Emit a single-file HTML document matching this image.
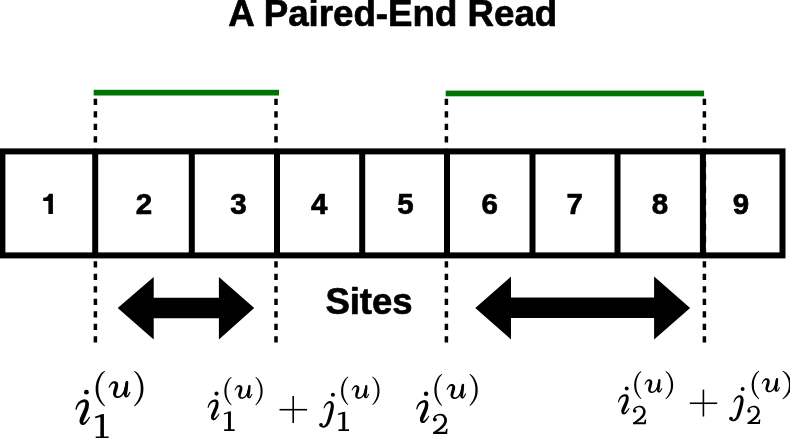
<!DOCTYPE html>
<html><head><meta charset="utf-8">
<style>
html,body{margin:0;padding:0;background:#fff;width:790px;height:438px;overflow:hidden}
svg{display:block;position:absolute;left:0;top:0;will-change:transform}
.sb{font-family:"Liberation Sans",sans-serif;font-weight:bold;fill:#000;stroke:#000;stroke-width:0.7px;stroke-linejoin:round}
</style></head><body>
<svg width="790" height="438" viewBox="0 0 790 438">
<text class="sb" x="392.8" y="25.7" font-size="36.7" text-anchor="middle">A Paired-End Read</text>
<rect x="93.7" y="89.8" width="185.3" height="5.7" fill="#007400"/>
<rect x="445.7" y="90.6" width="258.4" height="5.7" fill="#007400"/>
<rect x="2.4" y="151.4" width="780.1" height="104" fill="none" stroke="#000" stroke-width="6"/>
<g stroke="#000" stroke-width="6">
<line x1="95.2" y1="151.4" x2="95.2" y2="255.4"/>
<line x1="191.8" y1="151.4" x2="191.8" y2="255.4"/>
<line x1="277" y1="151.4" x2="277" y2="255.4"/>
<line x1="362.2" y1="151.4" x2="362.2" y2="255.4"/>
<line x1="447" y1="151.4" x2="447" y2="255.4"/>
<line x1="532.5" y1="151.4" x2="532.5" y2="255.4"/>
<line x1="617.5" y1="151.4" x2="617.5" y2="255.4"/>
<line x1="702.9" y1="151.4" x2="702.9" y2="255.4"/>
</g>
<g stroke="#000" stroke-width="3.5" stroke-dasharray="6.2 6.3">
<line x1="95.4" y1="98.7" x2="95.4" y2="343"/>
<line x1="276" y1="98.7" x2="276" y2="343"/>
<line x1="446.4" y1="98.7" x2="446.4" y2="343"/>
<line x1="704.4" y1="98.7" x2="704.4" y2="343"/>
</g>
<g class="sb" font-size="29.5" text-anchor="middle">
<text x="143.9" y="214">2</text>
<text x="238.5" y="214">3</text>
<text x="319.2" y="214">4</text>
<text x="405.4" y="214">5</text>
<text x="489.8" y="214">6</text>
<text x="574.7" y="214">7</text>
<text x="659.9" y="214">8</text>
<text x="741" y="214">9</text>
</g>
<polygon fill="#000" points="43.2,197.7 45.6,197.4 47.3,196.5 48.4,195.1 49.0,193.8 52.9,193.8 52.9,214.0 48.4,214.0 48.4,201.0 43.2,201.0"/>
<text class="sb" x="369" y="314" font-size="36.5" text-anchor="middle">Sites</text>
<polygon fill="#000" points="117.7,308 153.7,277 153.7,297.8 218.9,297.8 218.9,277 254.2,308 218.9,339.4 218.9,318.2 153.7,318.2 153.7,339.4"/>
<polygon fill="#000" points="475.3,308 511,276.5 511,297.6 654.1,297.6 654.1,276.5 690.1,308 654.1,339.4 654.1,318 511,318 511,339.4"/>
<g fill="#000">
<g transform="translate(75.40 389.78) scale(1.0000)"><path d="M1.26,19.59 1.35,19.35 1.44,19.10 1.52,18.86 1.60,18.62 1.68,18.39 1.76,18.16 1.84,17.94 1.93,17.72 2.02,17.50 2.12,17.29 2.22,17.08 2.34,16.87 2.47,16.64 2.61,16.40 2.76,16.16 2.92,15.92 3.07,15.69 3.24,15.46 3.41,15.23 3.58,15.01 3.75,14.81 3.93,14.62 4.10,14.44 4.28,14.28 4.47,14.12 4.67,13.96 4.87,13.81 5.09,13.67 5.30,13.53 5.53,13.40 5.75,13.28 5.98,13.16 6.20,13.06 6.43,12.97 6.65,12.89 6.87,12.82 7.10,12.76 7.35,12.69 7.61,12.64 7.87,12.59 8.13,12.55 8.38,12.52 8.62,12.51 8.84,12.50 9.03,12.52 9.18,12.54 9.28,12.57 9.35,12.61 9.42,12.65 9.51,12.71 9.58,12.77 9.64,12.83 9.68,12.89 9.72,12.95 9.75,13.02 9.78,13.09 9.81,13.18 9.83,13.27 9.85,13.39 9.86,13.52 9.87,13.68 9.87,13.91 9.86,14.18 9.83,14.50 9.80,14.85 9.74,15.22 9.68,15.60 9.61,16.00 9.53,16.39 9.45,16.78 9.36,17.15 9.27,17.50 9.17,17.82 9.07,18.14 8.95,18.47 8.82,18.82 8.67,19.16 8.52,19.52 8.36,19.88 8.19,20.25 8.02,20.62 7.86,21.00 7.69,21.38 7.53,21.76 7.38,22.10 7.23,22.44 7.08,22.77 6.93,23.09 6.78,23.42 6.63,23.75 6.48,24.07 6.33,24.40 6.18,24.73 6.03,25.07 5.89,25.41 5.75,25.74 5.62,26.05 5.49,26.36 5.34,26.68 5.19,27.02 5.04,27.36 4.89,27.71 4.75,28.07 4.61,28.44 4.48,28.82 4.37,29.20 4.27,29.60 4.20,30.00 4.16,30.37 4.14,30.73 4.13,31.08 4.14,31.44 4.17,31.80 4.22,32.15 4.29,32.51 4.39,32.86 4.51,33.21 4.68,33.57 4.89,33.92 5.15,34.25 5.46,34.53 5.78,34.75 6.11,34.92 6.44,35.05 6.79,35.14 7.14,35.19 7.49,35.22 7.85,35.20 8.21,35.16 8.57,35.07 8.92,34.95 9.27,34.78 9.59,34.57 9.88,34.33 10.16,34.07 10.42,33.79 10.67,33.50 10.92,33.20 11.16,32.90 11.40,32.58 11.63,32.27 11.85,31.97 12.06,31.67 12.27,31.39 12.48,31.10 12.68,30.80 12.88,30.51 13.07,30.21 13.25,29.91 13.44,29.61 13.62,29.31 13.79,29.01 13.97,28.72 14.15,28.42 14.32,28.13 14.50,27.84 14.59,27.65 14.59,27.45 14.52,27.26 14.38,27.11 14.19,27.03 13.98,27.02 13.79,27.10 13.65,27.24 13.43,27.51 13.22,27.79 13.01,28.07 12.80,28.34 12.59,28.62 12.38,28.89 12.18,29.16 11.97,29.42 11.76,29.68 11.54,29.93 11.32,30.17 11.10,30.41 10.86,30.66 10.60,30.92 10.35,31.19 10.09,31.45 9.83,31.71 9.57,31.95 9.32,32.17 9.08,32.36 8.85,32.53 8.64,32.65 8.47,32.73 8.34,32.76 8.24,32.76 8.13,32.75 8.03,32.73 7.92,32.69 7.82,32.64 7.74,32.58 7.66,32.52 7.60,32.46 7.57,32.39 7.57,32.34 7.59,32.31 7.66,32.33 7.72,32.36 7.77,32.36 7.80,32.31 7.83,32.23 7.86,32.12 7.89,31.98 7.93,31.81 7.98,31.63 8.03,31.44 8.09,31.24 8.15,31.03 8.21,30.84 8.27,30.66 8.35,30.47 8.44,30.25 8.55,30.00 8.68,29.73 8.81,29.43 8.96,29.13 9.11,28.80 9.27,28.47 9.43,28.13 9.59,27.77 9.74,27.42 9.88,27.10 10.01,26.78 10.15,26.46 10.28,26.14 10.42,25.81 10.56,25.48 10.71,25.14 10.85,24.79 10.99,24.44 11.14,24.08 11.28,23.71 11.42,23.34 11.56,22.99 11.70,22.64 11.85,22.27 12.01,21.88 12.17,21.48 12.33,21.07 12.49,20.65 12.64,20.22 12.79,19.78 12.92,19.33 13.04,18.86 13.14,18.40 13.22,17.94 13.30,17.48 13.36,17.01 13.41,16.53 13.46,16.05 13.49,15.57 13.51,15.09 13.51,14.62 13.49,14.15 13.46,13.69 13.40,13.24 13.30,12.80 13.18,12.39 13.02,11.99 12.83,11.63 12.61,11.28 12.37,10.97 12.09,10.69 11.80,10.44 11.50,10.22 11.18,10.04 10.86,9.89 10.53,9.77 10.18,9.67 9.79,9.60 9.40,9.58 9.01,9.58 8.64,9.62 8.28,9.67 7.92,9.75 7.56,9.83 7.22,9.93 6.88,10.04 6.55,10.16 6.24,10.29 5.94,10.42 5.64,10.56 5.35,10.72 5.06,10.89 4.77,11.07 4.49,11.25 4.22,11.45 3.96,11.66 3.70,11.87 3.46,12.09 3.22,12.32 2.99,12.56 2.77,12.80 2.55,13.06 2.35,13.34 2.16,13.61 1.98,13.90 1.81,14.19 1.65,14.47 1.50,14.76 1.36,15.05 1.23,15.34 1.10,15.61 0.98,15.89 0.87,16.15 0.76,16.43 0.66,16.70 0.57,16.97 0.50,17.24 0.43,17.50 0.37,17.75 0.31,18.00 0.25,18.24 0.20,18.48 0.15,18.72 0.09,18.95 0.03,19.19 0.00,19.44 0.07,19.69 0.23,19.88 0.45,20.01 0.70,20.03 0.94,19.97 1.14,19.81Z"/><circle cx="11.00" cy="2.40" r="2.4"/></g>
<g transform="translate(95.64 370.88) scale(1.0000 1.0000)"><path d="M8.48,0.13 8.18,0.37 7.89,0.59 7.60,0.80 7.30,1.00 6.99,1.21 6.68,1.44 6.36,1.68 6.04,1.94 5.71,2.24 5.39,2.57 5.06,2.95 4.74,3.36 4.42,3.80 4.10,4.28 3.77,4.80 3.44,5.34 3.12,5.91 2.79,6.49 2.48,7.09 2.17,7.71 1.89,8.33 1.62,8.96 1.37,9.58 1.15,10.20 0.96,10.81 0.79,11.43 0.63,12.05 0.50,12.68 0.38,13.31 0.28,13.94 0.19,14.57 0.12,15.21 0.07,15.84 0.03,16.47 0.01,17.10 0.00,17.73 0.01,18.36 0.03,18.99 0.07,19.63 0.12,20.27 0.19,20.91 0.28,21.55 0.38,22.18 0.50,22.82 0.63,23.44 0.79,24.06 0.96,24.67 1.16,25.27 1.38,25.87 1.63,26.47 1.90,27.05 2.19,27.63 2.49,28.19 2.81,28.74 3.13,29.27 3.46,29.79 3.79,30.28 4.11,30.75 4.43,31.20 4.74,31.63 5.05,32.04 5.37,32.42 5.69,32.77 6.01,33.10 6.32,33.40 6.64,33.69 6.95,33.96 7.25,34.23 7.56,34.49 7.86,34.75 8.15,35.02 8.45,35.31 8.60,35.42 8.78,35.47 8.97,35.44 9.13,35.35 9.24,35.20 9.29,35.02 9.26,34.83 9.17,34.67 8.91,34.33 8.64,34.00 8.38,33.69 8.12,33.38 7.86,33.07 7.61,32.76 7.36,32.45 7.12,32.13 6.88,31.80 6.64,31.45 6.41,31.09 6.18,30.69 5.94,30.25 5.68,29.79 5.42,29.30 5.16,28.80 4.90,28.29 4.65,27.76 4.41,27.23 4.18,26.69 3.96,26.15 3.77,25.62 3.59,25.09 3.44,24.57 3.31,24.04 3.19,23.49 3.09,22.94 2.99,22.37 2.92,21.80 2.85,21.22 2.80,20.64 2.75,20.06 2.72,19.47 2.70,18.89 2.68,18.31 2.68,17.73 2.68,17.16 2.70,16.58 2.72,16.00 2.75,15.42 2.80,14.85 2.85,14.27 2.92,13.70 2.99,13.12 3.09,12.56 3.19,11.99 3.31,11.43 3.45,10.88 3.60,10.33 3.78,9.75 3.98,9.17 4.19,8.58 4.43,7.98 4.67,7.40 4.92,6.82 5.18,6.26 5.44,5.72 5.69,5.21 5.94,4.74 6.18,4.30 6.40,3.92 6.63,3.58 6.85,3.27 7.08,2.98 7.32,2.71 7.57,2.45 7.82,2.20 8.07,1.94 8.34,1.68 8.61,1.41 8.88,1.12 9.14,0.83 9.25,0.67 9.29,0.49 9.26,0.31 9.16,0.15 9.00,0.04 8.82,0.00 8.64,0.03Z"/></g>
<g transform="translate(108.60 380.95) scale(0.9995)"><path d="M1.03,6.54 1.14,6.34 1.25,6.14 1.36,5.94 1.46,5.74 1.56,5.54 1.66,5.35 1.77,5.16 1.87,4.98 1.98,4.80 2.09,4.63 2.21,4.47 2.34,4.31 2.48,4.15 2.63,3.98 2.79,3.81 2.95,3.64 3.12,3.48 3.29,3.33 3.46,3.18 3.63,3.04 3.79,2.92 3.95,2.81 4.09,2.72 4.23,2.65 4.36,2.58 4.49,2.53 4.62,2.49 4.74,2.46 4.85,2.43 4.96,2.42 5.07,2.41 5.17,2.41 5.26,2.42 5.35,2.44 5.44,2.46 5.52,2.49 5.61,2.52 5.70,2.57 5.81,2.62 5.92,2.69 6.03,2.76 6.14,2.84 6.24,2.92 6.32,3.00 6.39,3.07 6.44,3.14 6.45,3.18 6.44,3.21 6.43,3.23 6.42,3.24 6.41,3.26 6.39,3.28 6.38,3.31 6.38,3.36 6.37,3.43 6.36,3.52 6.35,3.63 6.33,3.77 6.32,3.93 6.30,4.10 6.27,4.26 6.24,4.44 6.20,4.64 6.15,4.87 6.09,5.11 6.02,5.36 5.96,5.63 5.88,5.90 5.81,6.19 5.73,6.48 5.66,6.77 5.59,7.06 5.52,7.34 5.44,7.63 5.35,7.94 5.26,8.27 5.16,8.61 5.06,8.95 4.96,9.30 4.87,9.65 4.78,10.00 4.70,10.34 4.63,10.68 4.57,11.01 4.53,11.30 4.50,11.58 4.48,11.85 4.46,12.11 4.45,12.37 4.45,12.62 4.46,12.87 4.48,13.12 4.51,13.36 4.55,13.60 4.60,13.84 4.66,14.07 4.73,14.29 4.82,14.51 4.91,14.72 5.01,14.93 5.13,15.14 5.26,15.34 5.41,15.54 5.57,15.72 5.74,15.90 5.92,16.06 6.12,16.21 6.32,16.35 6.54,16.47 6.76,16.58 6.98,16.68 7.21,16.76 7.45,16.84 7.69,16.90 7.94,16.96 8.19,17.00 8.44,17.03 8.69,17.05 8.95,17.06 9.20,17.05 9.45,17.03 9.69,17.00 9.94,16.95 10.18,16.89 10.43,16.83 10.67,16.75 10.91,16.67 11.14,16.57 11.38,16.47 11.61,16.36 11.83,16.24 12.06,16.12 12.27,15.99 12.48,15.85 12.69,15.71 12.90,15.55 13.10,15.39 13.31,15.22 13.51,15.04 13.71,14.85 13.90,14.66 14.10,14.45 14.29,14.23 14.48,14.00 14.66,13.77 14.85,13.52 15.03,13.26 15.21,13.00 15.39,12.72 15.57,12.44 15.74,12.14 15.91,11.84 16.08,11.53 16.24,11.21 16.40,10.89 16.56,10.56 16.71,10.22 16.85,9.86 16.99,9.50 17.13,9.12 17.26,8.75 17.39,8.37 17.51,7.98 17.63,7.60 17.75,7.22 17.86,6.84 17.97,6.47 18.08,6.10 18.19,5.72 18.29,5.35 18.39,4.98 18.48,4.60 18.57,4.23 18.66,3.86 18.74,3.50 18.82,3.13 18.91,2.77 18.99,2.41 19.08,2.05 19.16,1.69 19.17,1.27 19.02,0.89 18.74,0.59 18.36,0.43 17.95,0.42 17.56,0.57 17.27,0.86 17.10,1.23 17.03,1.60 16.96,1.97 16.89,2.35 16.82,2.71 16.75,3.08 16.68,3.44 16.61,3.81 16.54,4.17 16.46,4.53 16.39,4.89 16.31,5.24 16.22,5.60 16.13,5.97 16.04,6.35 15.95,6.72 15.86,7.10 15.76,7.48 15.66,7.85 15.56,8.22 15.46,8.58 15.35,8.93 15.24,9.26 15.13,9.59 15.01,9.90 14.88,10.20 14.75,10.50 14.62,10.79 14.47,11.07 14.33,11.35 14.18,11.62 14.03,11.88 13.88,12.13 13.72,12.37 13.56,12.61 13.41,12.83 13.25,13.04 13.09,13.23 12.94,13.42 12.78,13.59 12.62,13.76 12.46,13.91 12.30,14.06 12.13,14.20 11.97,14.33 11.80,14.45 11.63,14.56 11.46,14.66 11.29,14.76 11.12,14.85 10.94,14.93 10.76,15.00 10.58,15.06 10.39,15.12 10.21,15.16 10.03,15.20 9.85,15.23 9.67,15.25 9.51,15.26 9.35,15.26 9.20,15.25 9.06,15.23 8.92,15.20 8.77,15.16 8.62,15.11 8.47,15.05 8.33,14.98 8.19,14.91 8.06,14.83 7.95,14.75 7.85,14.67 7.76,14.60 7.70,14.53 7.66,14.46 7.62,14.39 7.60,14.33 7.58,14.26 7.56,14.18 7.54,14.11 7.53,14.02 7.52,13.93 7.52,13.84 7.51,13.73 7.50,13.62 7.50,13.51 7.50,13.39 7.51,13.28 7.52,13.17 7.53,13.04 7.55,12.91 7.57,12.77 7.60,12.62 7.63,12.45 7.67,12.27 7.71,12.08 7.76,11.87 7.81,11.65 7.87,11.43 7.94,11.18 8.03,10.91 8.13,10.61 8.23,10.30 8.34,9.97 8.46,9.63 8.57,9.29 8.68,8.94 8.79,8.60 8.89,8.25 8.98,7.92 9.05,7.61 9.12,7.31 9.19,7.01 9.26,6.70 9.32,6.39 9.38,6.09 9.44,5.78 9.49,5.48 9.53,5.18 9.56,4.88 9.58,4.58 9.59,4.30 9.59,4.05 9.58,3.81 9.57,3.57 9.54,3.33 9.50,3.08 9.45,2.83 9.38,2.58 9.29,2.32 9.17,2.07 9.03,1.83 8.87,1.60 8.68,1.37 8.46,1.16 8.23,0.98 7.99,0.83 7.75,0.70 7.50,0.59 7.26,0.49 7.01,0.41 6.76,0.34 6.51,0.29 6.26,0.25 6.01,0.22 5.76,0.21 5.52,0.22 5.29,0.24 5.06,0.27 4.84,0.32 4.62,0.38 4.40,0.46 4.19,0.55 3.99,0.65 3.79,0.76 3.59,0.88 3.40,1.01 3.22,1.15 3.03,1.31 2.84,1.49 2.66,1.67 2.49,1.87 2.32,2.07 2.15,2.28 1.99,2.49 1.83,2.70 1.68,2.92 1.54,3.13 1.40,3.34 1.27,3.55 1.14,3.76 1.01,3.97 0.90,4.19 0.79,4.40 0.69,4.62 0.60,4.83 0.51,5.04 0.42,5.24 0.33,5.44 0.24,5.64 0.15,5.84 0.06,6.04 0.00,6.24 0.02,6.45 0.13,6.64 0.29,6.77 0.50,6.83 0.71,6.81 0.89,6.71Z"/><path d="M17.00,1.19 16.92,1.66 16.84,2.13 16.76,2.60 16.68,3.07 16.59,3.54 16.51,4.01 16.43,4.48 16.35,4.94 16.27,5.40 16.20,5.85 16.13,6.29 16.06,6.72 15.99,7.16 15.92,7.59 15.85,8.03 15.78,8.47 15.71,8.91 15.64,9.35 15.58,9.77 15.52,10.18 15.46,10.58 15.42,10.97 15.38,11.33 15.34,11.67 15.32,11.97 15.31,12.24 15.29,12.50 15.29,12.74 15.28,12.97 15.29,13.20 15.30,13.43 15.31,13.65 15.34,13.88 15.38,14.10 15.42,14.33 15.48,14.55 15.55,14.77 15.63,14.97 15.73,15.17 15.84,15.36 15.96,15.55 16.09,15.73 16.25,15.90 16.43,16.06 16.63,16.21 16.85,16.34 17.10,16.43 17.35,16.48 17.56,16.50 17.75,16.49 17.95,16.47 18.16,16.43 18.37,16.38 18.58,16.30 18.79,16.20 18.99,16.08 19.19,15.94 19.39,15.78 19.58,15.59 19.77,15.38 19.95,15.14 20.12,14.88 20.30,14.60 20.47,14.30 20.64,13.98 20.82,13.66 20.99,13.32 21.17,12.99 21.34,12.66 21.51,12.33 21.67,12.02 21.84,11.72 21.91,11.52 21.90,11.31 21.81,11.12 21.65,10.97 21.46,10.90 21.24,10.91 21.05,11.00 20.91,11.16 20.71,11.45 20.51,11.76 20.31,12.08 20.12,12.39 19.92,12.71 19.73,13.02 19.53,13.32 19.35,13.60 19.17,13.85 19.00,14.07 18.84,14.26 18.70,14.40 18.57,14.50 18.45,14.59 18.33,14.65 18.23,14.69 18.14,14.71 18.07,14.72 18.00,14.72 17.94,14.71 17.89,14.69 17.85,14.67 17.82,14.64 17.82,14.62 17.87,14.60 17.93,14.60 17.99,14.60 18.03,14.60 18.06,14.58 18.08,14.55 18.10,14.50 18.11,14.45 18.13,14.38 18.14,14.30 18.15,14.21 18.16,14.12 18.18,14.04 18.20,13.95 18.23,13.86 18.26,13.75 18.30,13.62 18.33,13.47 18.38,13.30 18.42,13.10 18.47,12.88 18.52,12.64 18.57,12.36 18.62,12.07 18.67,11.76 18.72,11.43 18.78,11.07 18.84,10.68 18.91,10.27 18.97,9.85 19.04,9.42 19.10,8.97 19.17,8.52 19.22,8.06 19.28,7.61 19.33,7.15 19.37,6.70 19.41,6.24 19.45,5.78 19.48,5.31 19.51,4.84 19.54,4.36 19.56,3.88 19.59,3.40 19.62,2.93 19.64,2.45 19.67,1.98 19.70,1.51 19.66,0.98 19.42,0.51 19.01,0.16 18.51,0.00 17.98,0.04 17.51,0.28 17.17,0.69Z"/></g>
<g transform="translate(134.10 370.88) scale(1.0011 1.0000)"><path d="M0.15,0.83 0.41,1.12 0.68,1.41 0.95,1.68 1.22,1.94 1.47,2.20 1.72,2.45 1.97,2.71 2.21,2.98 2.44,3.27 2.66,3.58 2.89,3.92 3.11,4.30 3.35,4.74 3.60,5.21 3.85,5.72 4.11,6.26 4.37,6.82 4.62,7.40 4.86,7.98 5.10,8.58 5.31,9.17 5.51,9.75 5.69,10.33 5.84,10.88 5.98,11.43 6.10,11.99 6.20,12.56 6.30,13.12 6.37,13.70 6.44,14.27 6.49,14.85 6.54,15.42 6.57,16.00 6.59,16.58 6.61,17.16 6.61,17.73 6.61,18.31 6.59,18.89 6.57,19.47 6.54,20.06 6.49,20.64 6.44,21.22 6.37,21.80 6.30,22.37 6.20,22.94 6.10,23.49 5.98,24.04 5.85,24.57 5.70,25.09 5.52,25.62 5.33,26.15 5.11,26.69 4.88,27.23 4.64,27.76 4.39,28.29 4.13,28.80 3.87,29.30 3.61,29.79 3.35,30.25 3.11,30.69 2.88,31.09 2.65,31.45 2.41,31.80 2.17,32.13 1.93,32.45 1.68,32.76 1.43,33.07 1.17,33.38 0.91,33.69 0.65,34.00 0.38,34.33 0.12,34.67 0.03,34.83 0.00,35.02 0.05,35.20 0.16,35.35 0.32,35.44 0.51,35.47 0.69,35.42 0.84,35.31 1.14,35.02 1.43,34.75 1.73,34.49 2.04,34.23 2.34,33.96 2.65,33.69 2.97,33.40 3.28,33.10 3.60,32.77 3.92,32.42 4.24,32.04 4.55,31.63 4.86,31.20 5.18,30.75 5.50,30.28 5.83,29.79 6.16,29.27 6.48,28.74 6.80,28.19 7.10,27.63 7.39,27.05 7.66,26.47 7.91,25.87 8.13,25.27 8.33,24.67 8.50,24.06 8.66,23.44 8.79,22.82 8.91,22.18 9.01,21.55 9.10,20.91 9.17,20.27 9.22,19.63 9.26,18.99 9.28,18.36 9.29,17.73 9.28,17.10 9.26,16.47 9.22,15.84 9.17,15.21 9.10,14.57 9.01,13.94 8.91,13.31 8.79,12.68 8.66,12.05 8.50,11.43 8.33,10.81 8.14,10.20 7.92,9.58 7.67,8.96 7.40,8.33 7.12,7.71 6.81,7.09 6.50,6.49 6.17,5.91 5.85,5.34 5.52,4.80 5.19,4.28 4.87,3.80 4.55,3.36 4.23,2.95 3.90,2.57 3.57,2.24 3.25,1.94 2.93,1.68 2.61,1.44 2.30,1.21 1.99,1.00 1.69,0.80 1.40,0.59 1.11,0.37 0.81,0.13 0.65,0.03 0.47,0.00 0.29,0.04 0.13,0.15 0.03,0.31 0.00,0.49 0.04,0.67Z"/></g>
<g transform="translate(95.20 414.10) scale(1.2294 1.2398)"><path d="M0.00,1.90 2.70,1.10 5.00,0.20 7.10,0.00 7.10,18.00 10.90,18.00 10.90,19.60 0.40,19.60 0.40,18.00 4.20,18.00 4.20,2.30 0.10,3.30Z"/></g>
<g transform="translate(207.60 391.59) scale(0.8100)"><path d="M1.26,19.69 1.35,19.45 1.44,19.20 1.52,18.96 1.60,18.72 1.68,18.49 1.76,18.26 1.84,18.04 1.93,17.82 2.02,17.60 2.12,17.39 2.22,17.18 2.34,16.97 2.47,16.74 2.61,16.50 2.76,16.26 2.92,16.02 3.07,15.79 3.24,15.56 3.41,15.33 3.58,15.11 3.75,14.91 3.93,14.72 4.10,14.54 4.28,14.38 4.47,14.22 4.67,14.06 4.87,13.91 5.09,13.77 5.30,13.63 5.53,13.50 5.75,13.38 5.98,13.26 6.20,13.16 6.43,13.07 6.65,12.99 6.87,12.92 7.10,12.86 7.35,12.79 7.61,12.74 7.87,12.69 8.13,12.65 8.38,12.62 8.62,12.61 8.84,12.60 9.03,12.62 9.18,12.64 9.28,12.67 9.35,12.71 9.42,12.75 9.51,12.81 9.58,12.87 9.64,12.93 9.68,12.99 9.72,13.05 9.75,13.12 9.78,13.19 9.81,13.28 9.83,13.37 9.85,13.49 9.86,13.62 9.87,13.78 9.87,14.01 9.86,14.28 9.83,14.60 9.80,14.95 9.74,15.32 9.68,15.70 9.61,16.10 9.53,16.49 9.45,16.88 9.36,17.25 9.27,17.60 9.17,17.92 9.07,18.24 8.95,18.57 8.82,18.92 8.67,19.26 8.52,19.62 8.36,19.98 8.19,20.35 8.02,20.72 7.86,21.10 7.69,21.48 7.53,21.86 7.38,22.20 7.23,22.54 7.08,22.87 6.93,23.19 6.78,23.52 6.63,23.85 6.48,24.17 6.33,24.50 6.18,24.83 6.03,25.17 5.89,25.51 5.75,25.84 5.62,26.15 5.49,26.46 5.34,26.78 5.19,27.12 5.04,27.46 4.89,27.81 4.75,28.17 4.61,28.54 4.48,28.92 4.37,29.30 4.27,29.70 4.20,30.10 4.16,30.47 4.14,30.83 4.13,31.18 4.14,31.54 4.17,31.90 4.22,32.25 4.29,32.61 4.39,32.96 4.51,33.31 4.68,33.67 4.89,34.02 5.15,34.35 5.46,34.63 5.78,34.85 6.11,35.02 6.44,35.15 6.79,35.24 7.14,35.29 7.49,35.32 7.85,35.30 8.21,35.26 8.57,35.17 8.92,35.05 9.27,34.88 9.59,34.67 9.88,34.43 10.16,34.17 10.42,33.89 10.67,33.60 10.92,33.30 11.16,33.00 11.40,32.68 11.63,32.37 11.85,32.07 12.06,31.77 12.27,31.49 12.48,31.20 12.68,30.90 12.88,30.61 13.07,30.31 13.25,30.01 13.44,29.71 13.62,29.41 13.79,29.11 13.97,28.82 14.15,28.52 14.32,28.23 14.50,27.94 14.59,27.75 14.59,27.55 14.52,27.36 14.38,27.21 14.19,27.13 13.98,27.12 13.79,27.20 13.65,27.34 13.43,27.61 13.22,27.89 13.01,28.17 12.80,28.44 12.59,28.72 12.38,28.99 12.18,29.26 11.97,29.52 11.76,29.78 11.54,30.03 11.32,30.27 11.10,30.51 10.86,30.76 10.60,31.02 10.35,31.29 10.09,31.55 9.83,31.81 9.57,32.05 9.32,32.27 9.08,32.46 8.85,32.63 8.64,32.75 8.47,32.83 8.34,32.86 8.24,32.86 8.13,32.85 8.03,32.83 7.92,32.79 7.82,32.74 7.74,32.68 7.66,32.62 7.60,32.56 7.57,32.49 7.57,32.44 7.59,32.41 7.66,32.43 7.72,32.46 7.77,32.46 7.80,32.41 7.83,32.33 7.86,32.22 7.89,32.08 7.93,31.91 7.98,31.73 8.03,31.54 8.09,31.34 8.15,31.13 8.21,30.94 8.27,30.76 8.35,30.57 8.44,30.35 8.55,30.10 8.68,29.83 8.81,29.53 8.96,29.23 9.11,28.90 9.27,28.57 9.43,28.23 9.59,27.87 9.74,27.52 9.88,27.20 10.01,26.88 10.15,26.56 10.28,26.24 10.42,25.91 10.56,25.58 10.71,25.24 10.85,24.89 10.99,24.54 11.14,24.18 11.28,23.81 11.42,23.44 11.56,23.09 11.70,22.74 11.85,22.37 12.01,21.98 12.17,21.58 12.33,21.17 12.49,20.75 12.64,20.32 12.79,19.88 12.92,19.43 13.04,18.96 13.14,18.50 13.22,18.04 13.30,17.58 13.36,17.11 13.41,16.63 13.46,16.15 13.49,15.67 13.51,15.19 13.51,14.72 13.49,14.25 13.46,13.79 13.40,13.34 13.30,12.90 13.18,12.49 13.02,12.09 12.83,11.73 12.61,11.38 12.37,11.07 12.09,10.79 11.80,10.54 11.50,10.32 11.18,10.14 10.86,9.99 10.53,9.87 10.18,9.77 9.79,9.70 9.40,9.68 9.01,9.68 8.64,9.72 8.28,9.77 7.92,9.85 7.56,9.93 7.22,10.03 6.88,10.14 6.55,10.26 6.24,10.39 5.94,10.52 5.64,10.66 5.35,10.82 5.06,10.99 4.77,11.17 4.49,11.35 4.22,11.55 3.96,11.76 3.70,11.97 3.46,12.19 3.22,12.42 2.99,12.66 2.77,12.90 2.55,13.16 2.35,13.44 2.16,13.71 1.98,14.00 1.81,14.29 1.65,14.57 1.50,14.86 1.36,15.15 1.23,15.44 1.10,15.71 0.98,15.99 0.87,16.25 0.76,16.53 0.66,16.80 0.57,17.07 0.50,17.34 0.43,17.60 0.37,17.85 0.31,18.10 0.25,18.34 0.20,18.58 0.15,18.82 0.09,19.05 0.03,19.29 0.00,19.54 0.07,19.79 0.23,19.98 0.45,20.11 0.70,20.13 0.94,20.07 1.14,19.91Z"/><circle cx="11.00" cy="2.50" r="2.5"/></g>
<g transform="translate(224.40 377.00) scale(0.7643 0.7951)"><path d="M8.48,0.13 8.18,0.37 7.89,0.59 7.60,0.80 7.30,1.00 6.99,1.21 6.68,1.44 6.36,1.68 6.04,1.94 5.71,2.24 5.39,2.57 5.06,2.95 4.74,3.36 4.42,3.80 4.10,4.28 3.77,4.80 3.44,5.34 3.12,5.91 2.79,6.49 2.48,7.09 2.17,7.71 1.89,8.33 1.62,8.96 1.37,9.58 1.15,10.20 0.96,10.81 0.79,11.43 0.63,12.05 0.50,12.68 0.38,13.31 0.28,13.94 0.19,14.57 0.12,15.21 0.07,15.84 0.03,16.47 0.01,17.10 0.00,17.73 0.01,18.36 0.03,18.99 0.07,19.63 0.12,20.27 0.19,20.91 0.28,21.55 0.38,22.18 0.50,22.82 0.63,23.44 0.79,24.06 0.96,24.67 1.16,25.27 1.38,25.87 1.63,26.47 1.90,27.05 2.19,27.63 2.49,28.19 2.81,28.74 3.13,29.27 3.46,29.79 3.79,30.28 4.11,30.75 4.43,31.20 4.74,31.63 5.05,32.04 5.37,32.42 5.69,32.77 6.01,33.10 6.32,33.40 6.64,33.69 6.95,33.96 7.25,34.23 7.56,34.49 7.86,34.75 8.15,35.02 8.45,35.31 8.60,35.42 8.78,35.47 8.97,35.44 9.13,35.35 9.24,35.20 9.29,35.02 9.26,34.83 9.17,34.67 8.91,34.33 8.64,34.00 8.38,33.69 8.12,33.38 7.86,33.07 7.61,32.76 7.36,32.45 7.12,32.13 6.88,31.80 6.64,31.45 6.41,31.09 6.18,30.69 5.94,30.25 5.68,29.79 5.42,29.30 5.16,28.80 4.90,28.29 4.65,27.76 4.41,27.23 4.18,26.69 3.96,26.15 3.77,25.62 3.59,25.09 3.44,24.57 3.31,24.04 3.19,23.49 3.09,22.94 2.99,22.37 2.92,21.80 2.85,21.22 2.80,20.64 2.75,20.06 2.72,19.47 2.70,18.89 2.68,18.31 2.68,17.73 2.68,17.16 2.70,16.58 2.72,16.00 2.75,15.42 2.80,14.85 2.85,14.27 2.92,13.70 2.99,13.12 3.09,12.56 3.19,11.99 3.31,11.43 3.45,10.88 3.60,10.33 3.78,9.75 3.98,9.17 4.19,8.58 4.43,7.98 4.67,7.40 4.92,6.82 5.18,6.26 5.44,5.72 5.69,5.21 5.94,4.74 6.18,4.30 6.40,3.92 6.63,3.58 6.85,3.27 7.08,2.98 7.32,2.71 7.57,2.45 7.82,2.20 8.07,1.94 8.34,1.68 8.61,1.41 8.88,1.12 9.14,0.83 9.25,0.67 9.29,0.49 9.26,0.31 9.16,0.15 9.00,0.04 8.82,0.00 8.64,0.03Z"/></g>
<g transform="translate(234.60 384.94) scale(0.8124)"><path d="M1.03,6.54 1.14,6.34 1.25,6.14 1.36,5.94 1.46,5.74 1.56,5.54 1.66,5.35 1.77,5.16 1.87,4.98 1.98,4.80 2.09,4.63 2.21,4.47 2.34,4.31 2.48,4.15 2.63,3.98 2.79,3.81 2.95,3.64 3.12,3.48 3.29,3.33 3.46,3.18 3.63,3.04 3.79,2.92 3.95,2.81 4.09,2.72 4.23,2.65 4.36,2.58 4.49,2.53 4.62,2.49 4.74,2.46 4.85,2.43 4.96,2.42 5.07,2.41 5.17,2.41 5.26,2.42 5.35,2.44 5.44,2.46 5.52,2.49 5.61,2.52 5.70,2.57 5.81,2.62 5.92,2.69 6.03,2.76 6.14,2.84 6.24,2.92 6.32,3.00 6.39,3.07 6.44,3.14 6.45,3.18 6.44,3.21 6.43,3.23 6.42,3.24 6.41,3.26 6.39,3.28 6.38,3.31 6.38,3.36 6.37,3.43 6.36,3.52 6.35,3.63 6.33,3.77 6.32,3.93 6.30,4.10 6.27,4.26 6.24,4.44 6.20,4.64 6.15,4.87 6.09,5.11 6.02,5.36 5.96,5.63 5.88,5.90 5.81,6.19 5.73,6.48 5.66,6.77 5.59,7.06 5.52,7.34 5.44,7.63 5.35,7.94 5.26,8.27 5.16,8.61 5.06,8.95 4.96,9.30 4.87,9.65 4.78,10.00 4.70,10.34 4.63,10.68 4.57,11.01 4.53,11.30 4.50,11.58 4.48,11.85 4.46,12.11 4.45,12.37 4.45,12.62 4.46,12.87 4.48,13.12 4.51,13.36 4.55,13.60 4.60,13.84 4.66,14.07 4.73,14.29 4.82,14.51 4.91,14.72 5.01,14.93 5.13,15.14 5.26,15.34 5.41,15.54 5.57,15.72 5.74,15.90 5.92,16.06 6.12,16.21 6.32,16.35 6.54,16.47 6.76,16.58 6.98,16.68 7.21,16.76 7.45,16.84 7.69,16.90 7.94,16.96 8.19,17.00 8.44,17.03 8.69,17.05 8.95,17.06 9.20,17.05 9.45,17.03 9.69,17.00 9.94,16.95 10.18,16.89 10.43,16.83 10.67,16.75 10.91,16.67 11.14,16.57 11.38,16.47 11.61,16.36 11.83,16.24 12.06,16.12 12.27,15.99 12.48,15.85 12.69,15.71 12.90,15.55 13.10,15.39 13.31,15.22 13.51,15.04 13.71,14.85 13.90,14.66 14.10,14.45 14.29,14.23 14.48,14.00 14.66,13.77 14.85,13.52 15.03,13.26 15.21,13.00 15.39,12.72 15.57,12.44 15.74,12.14 15.91,11.84 16.08,11.53 16.24,11.21 16.40,10.89 16.56,10.56 16.71,10.22 16.85,9.86 16.99,9.50 17.13,9.12 17.26,8.75 17.39,8.37 17.51,7.98 17.63,7.60 17.75,7.22 17.86,6.84 17.97,6.47 18.08,6.10 18.19,5.72 18.29,5.35 18.39,4.98 18.48,4.60 18.57,4.23 18.66,3.86 18.74,3.50 18.82,3.13 18.91,2.77 18.99,2.41 19.08,2.05 19.16,1.69 19.17,1.27 19.02,0.89 18.74,0.59 18.36,0.43 17.95,0.42 17.56,0.57 17.27,0.86 17.10,1.23 17.03,1.60 16.96,1.97 16.89,2.35 16.82,2.71 16.75,3.08 16.68,3.44 16.61,3.81 16.54,4.17 16.46,4.53 16.39,4.89 16.31,5.24 16.22,5.60 16.13,5.97 16.04,6.35 15.95,6.72 15.86,7.10 15.76,7.48 15.66,7.85 15.56,8.22 15.46,8.58 15.35,8.93 15.24,9.26 15.13,9.59 15.01,9.90 14.88,10.20 14.75,10.50 14.62,10.79 14.47,11.07 14.33,11.35 14.18,11.62 14.03,11.88 13.88,12.13 13.72,12.37 13.56,12.61 13.41,12.83 13.25,13.04 13.09,13.23 12.94,13.42 12.78,13.59 12.62,13.76 12.46,13.91 12.30,14.06 12.13,14.20 11.97,14.33 11.80,14.45 11.63,14.56 11.46,14.66 11.29,14.76 11.12,14.85 10.94,14.93 10.76,15.00 10.58,15.06 10.39,15.12 10.21,15.16 10.03,15.20 9.85,15.23 9.67,15.25 9.51,15.26 9.35,15.26 9.20,15.25 9.06,15.23 8.92,15.20 8.77,15.16 8.62,15.11 8.47,15.05 8.33,14.98 8.19,14.91 8.06,14.83 7.95,14.75 7.85,14.67 7.76,14.60 7.70,14.53 7.66,14.46 7.62,14.39 7.60,14.33 7.58,14.26 7.56,14.18 7.54,14.11 7.53,14.02 7.52,13.93 7.52,13.84 7.51,13.73 7.50,13.62 7.50,13.51 7.50,13.39 7.51,13.28 7.52,13.17 7.53,13.04 7.55,12.91 7.57,12.77 7.60,12.62 7.63,12.45 7.67,12.27 7.71,12.08 7.76,11.87 7.81,11.65 7.87,11.43 7.94,11.18 8.03,10.91 8.13,10.61 8.23,10.30 8.34,9.97 8.46,9.63 8.57,9.29 8.68,8.94 8.79,8.60 8.89,8.25 8.98,7.92 9.05,7.61 9.12,7.31 9.19,7.01 9.26,6.70 9.32,6.39 9.38,6.09 9.44,5.78 9.49,5.48 9.53,5.18 9.56,4.88 9.58,4.58 9.59,4.30 9.59,4.05 9.58,3.81 9.57,3.57 9.54,3.33 9.50,3.08 9.45,2.83 9.38,2.58 9.29,2.32 9.17,2.07 9.03,1.83 8.87,1.60 8.68,1.37 8.46,1.16 8.23,0.98 7.99,0.83 7.75,0.70 7.50,0.59 7.26,0.49 7.01,0.41 6.76,0.34 6.51,0.29 6.26,0.25 6.01,0.22 5.76,0.21 5.52,0.22 5.29,0.24 5.06,0.27 4.84,0.32 4.62,0.38 4.40,0.46 4.19,0.55 3.99,0.65 3.79,0.76 3.59,0.88 3.40,1.01 3.22,1.15 3.03,1.31 2.84,1.49 2.66,1.67 2.49,1.87 2.32,2.07 2.15,2.28 1.99,2.49 1.83,2.70 1.68,2.92 1.54,3.13 1.40,3.34 1.27,3.55 1.14,3.76 1.01,3.97 0.90,4.19 0.79,4.40 0.69,4.62 0.60,4.83 0.51,5.04 0.42,5.24 0.33,5.44 0.24,5.64 0.15,5.84 0.06,6.04 0.00,6.24 0.02,6.45 0.13,6.64 0.29,6.77 0.50,6.83 0.71,6.81 0.89,6.71Z"/><path d="M17.00,1.19 16.92,1.66 16.84,2.13 16.76,2.60 16.68,3.07 16.59,3.54 16.51,4.01 16.43,4.48 16.35,4.94 16.27,5.40 16.20,5.85 16.13,6.29 16.06,6.72 15.99,7.16 15.92,7.59 15.85,8.03 15.78,8.47 15.71,8.91 15.64,9.35 15.58,9.77 15.52,10.18 15.46,10.58 15.42,10.97 15.38,11.33 15.34,11.67 15.32,11.97 15.31,12.24 15.29,12.50 15.29,12.74 15.28,12.97 15.29,13.20 15.30,13.43 15.31,13.65 15.34,13.88 15.38,14.10 15.42,14.33 15.48,14.55 15.55,14.77 15.63,14.97 15.73,15.17 15.84,15.36 15.96,15.55 16.09,15.73 16.25,15.90 16.43,16.06 16.63,16.21 16.85,16.34 17.10,16.43 17.35,16.48 17.56,16.50 17.75,16.49 17.95,16.47 18.16,16.43 18.37,16.38 18.58,16.30 18.79,16.20 18.99,16.08 19.19,15.94 19.39,15.78 19.58,15.59 19.77,15.38 19.95,15.14 20.12,14.88 20.30,14.60 20.47,14.30 20.64,13.98 20.82,13.66 20.99,13.32 21.17,12.99 21.34,12.66 21.51,12.33 21.67,12.02 21.84,11.72 21.91,11.52 21.90,11.31 21.81,11.12 21.65,10.97 21.46,10.90 21.24,10.91 21.05,11.00 20.91,11.16 20.71,11.45 20.51,11.76 20.31,12.08 20.12,12.39 19.92,12.71 19.73,13.02 19.53,13.32 19.35,13.60 19.17,13.85 19.00,14.07 18.84,14.26 18.70,14.40 18.57,14.50 18.45,14.59 18.33,14.65 18.23,14.69 18.14,14.71 18.07,14.72 18.00,14.72 17.94,14.71 17.89,14.69 17.85,14.67 17.82,14.64 17.82,14.62 17.87,14.60 17.93,14.60 17.99,14.60 18.03,14.60 18.06,14.58 18.08,14.55 18.10,14.50 18.11,14.45 18.13,14.38 18.14,14.30 18.15,14.21 18.16,14.12 18.18,14.04 18.20,13.95 18.23,13.86 18.26,13.75 18.30,13.62 18.33,13.47 18.38,13.30 18.42,13.10 18.47,12.88 18.52,12.64 18.57,12.36 18.62,12.07 18.67,11.76 18.72,11.43 18.78,11.07 18.84,10.68 18.91,10.27 18.97,9.85 19.04,9.42 19.10,8.97 19.17,8.52 19.22,8.06 19.28,7.61 19.33,7.15 19.37,6.70 19.41,6.24 19.45,5.78 19.48,5.31 19.51,4.84 19.54,4.36 19.56,3.88 19.59,3.40 19.62,2.93 19.64,2.45 19.67,1.98 19.70,1.51 19.66,0.98 19.42,0.51 19.01,0.16 18.51,0.00 17.98,0.04 17.51,0.28 17.17,0.69Z"/></g>
<g transform="translate(255.50 377.00) scale(0.7643 0.7951)"><path d="M0.15,0.83 0.41,1.12 0.68,1.41 0.95,1.68 1.22,1.94 1.47,2.20 1.72,2.45 1.97,2.71 2.21,2.98 2.44,3.27 2.66,3.58 2.89,3.92 3.11,4.30 3.35,4.74 3.60,5.21 3.85,5.72 4.11,6.26 4.37,6.82 4.62,7.40 4.86,7.98 5.10,8.58 5.31,9.17 5.51,9.75 5.69,10.33 5.84,10.88 5.98,11.43 6.10,11.99 6.20,12.56 6.30,13.12 6.37,13.70 6.44,14.27 6.49,14.85 6.54,15.42 6.57,16.00 6.59,16.58 6.61,17.16 6.61,17.73 6.61,18.31 6.59,18.89 6.57,19.47 6.54,20.06 6.49,20.64 6.44,21.22 6.37,21.80 6.30,22.37 6.20,22.94 6.10,23.49 5.98,24.04 5.85,24.57 5.70,25.09 5.52,25.62 5.33,26.15 5.11,26.69 4.88,27.23 4.64,27.76 4.39,28.29 4.13,28.80 3.87,29.30 3.61,29.79 3.35,30.25 3.11,30.69 2.88,31.09 2.65,31.45 2.41,31.80 2.17,32.13 1.93,32.45 1.68,32.76 1.43,33.07 1.17,33.38 0.91,33.69 0.65,34.00 0.38,34.33 0.12,34.67 0.03,34.83 0.00,35.02 0.05,35.20 0.16,35.35 0.32,35.44 0.51,35.47 0.69,35.42 0.84,35.31 1.14,35.02 1.43,34.75 1.73,34.49 2.04,34.23 2.34,33.96 2.65,33.69 2.97,33.40 3.28,33.10 3.60,32.77 3.92,32.42 4.24,32.04 4.55,31.63 4.86,31.20 5.18,30.75 5.50,30.28 5.83,29.79 6.16,29.27 6.48,28.74 6.80,28.19 7.10,27.63 7.39,27.05 7.66,26.47 7.91,25.87 8.13,25.27 8.33,24.67 8.50,24.06 8.66,23.44 8.79,22.82 8.91,22.18 9.01,21.55 9.10,20.91 9.17,20.27 9.22,19.63 9.26,18.99 9.28,18.36 9.29,17.73 9.28,17.10 9.26,16.47 9.22,15.84 9.17,15.21 9.10,14.57 9.01,13.94 8.91,13.31 8.79,12.68 8.66,12.05 8.50,11.43 8.33,10.81 8.14,10.20 7.92,9.58 7.67,8.96 7.40,8.33 7.12,7.71 6.81,7.09 6.50,6.49 6.17,5.91 5.85,5.34 5.52,4.80 5.19,4.28 4.87,3.80 4.55,3.36 4.23,2.95 3.90,2.57 3.57,2.24 3.25,1.94 2.93,1.68 2.61,1.44 2.30,1.21 1.99,1.00 1.69,0.80 1.40,0.59 1.11,0.37 0.81,0.13 0.65,0.03 0.47,0.00 0.29,0.04 0.13,0.15 0.03,0.31 0.00,0.49 0.04,0.67Z"/></g>
<g transform="translate(223.80 411.30) scale(1.0000 1.0000)"><path d="M0.00,1.90 2.70,1.10 5.00,0.20 7.10,0.00 7.10,18.00 10.90,18.00 10.90,19.60 0.40,19.60 0.40,18.00 4.20,18.00 4.20,2.30 0.10,3.30Z"/></g>
<g transform="translate(279.50 395.90) scale(1.0000 1.0000)"><path d="M0.00,13.00 27.60,13.00 27.60,14.60 0.00,14.60Z"/><path d="M12.90,0.00 14.50,0.00 14.50,27.20 12.90,27.20Z"/></g>
<g transform="translate(319.10 392.77) scale(1.0000)"><path d="M5.36,15.37 5.53,15.09 5.69,14.79 5.85,14.49 6.00,14.19 6.15,13.90 6.31,13.61 6.46,13.33 6.61,13.07 6.77,12.82 6.94,12.59 7.11,12.38 7.29,12.18 7.50,11.99 7.73,11.80 7.97,11.60 8.22,11.41 8.48,11.23 8.75,11.07 9.01,10.92 9.27,10.78 9.51,10.67 9.74,10.58 9.94,10.51 10.11,10.48 10.25,10.46 10.39,10.46 10.53,10.47 10.65,10.49 10.77,10.52 10.88,10.56 10.98,10.61 11.07,10.67 11.15,10.73 11.21,10.79 11.27,10.85 11.31,10.92 11.36,11.00 11.40,11.09 11.45,11.20 11.49,11.32 11.53,11.45 11.57,11.60 11.60,11.77 11.62,11.95 11.65,12.15 11.66,12.37 11.67,12.60 11.67,12.86 11.66,13.13 11.64,13.42 11.61,13.74 11.57,14.07 11.52,14.42 11.46,14.79 11.39,15.19 11.31,15.61 11.22,16.06 11.12,16.53 11.01,17.02 10.89,17.54 10.76,18.10 10.61,18.71 10.44,19.37 10.26,20.06 10.07,20.77 9.87,21.49 9.66,22.21 9.46,22.93 9.27,23.62 9.08,24.28 8.90,24.89 8.73,25.46 8.58,25.99 8.43,26.49 8.30,26.96 8.17,27.41 8.05,27.84 7.93,28.23 7.81,28.61 7.69,28.97 7.58,29.30 7.46,29.62 7.33,29.92 7.20,30.20 7.06,30.47 6.92,30.72 6.77,30.96 6.62,31.18 6.47,31.40 6.31,31.60 6.14,31.79 5.98,31.97 5.81,32.13 5.65,32.29 5.48,32.44 5.33,32.57 5.19,32.68 5.05,32.77 4.91,32.86 4.76,32.94 4.62,33.01 4.47,33.07 4.32,33.12 4.17,33.15 4.02,33.18 3.88,33.20 3.74,33.20 3.62,33.20 3.53,33.19 3.45,33.17 3.35,33.13 3.24,33.06 3.12,32.98 2.99,32.88 2.86,32.76 2.72,32.63 2.57,32.50 2.41,32.35 2.23,32.21 2.07,32.09 1.81,31.97 1.53,31.95 1.26,32.04 1.04,32.22 0.92,32.48 0.90,32.76 0.99,33.03 1.17,33.25 1.31,33.36 1.43,33.47 1.56,33.59 1.70,33.72 1.84,33.86 2.00,34.01 2.17,34.16 2.35,34.31 2.55,34.45 2.77,34.58 3.02,34.69 3.28,34.78 3.53,34.83 3.77,34.88 4.01,34.91 4.27,34.92 4.53,34.93 4.80,34.91 5.07,34.88 5.35,34.83 5.63,34.76 5.91,34.67 6.20,34.56 6.47,34.43 6.73,34.29 6.99,34.14 7.26,33.97 7.53,33.79 7.79,33.58 8.06,33.36 8.33,33.12 8.60,32.86 8.86,32.57 9.11,32.27 9.36,31.95 9.60,31.60 9.83,31.24 10.04,30.88 10.24,30.50 10.44,30.11 10.63,29.71 10.81,29.30 10.99,28.87 11.16,28.42 11.34,27.96 11.51,27.48 11.69,26.97 11.87,26.44 12.06,25.86 12.26,25.23 12.46,24.55 12.67,23.85 12.88,23.12 13.08,22.38 13.28,21.64 13.47,20.90 13.66,20.19 13.82,19.50 13.97,18.85 14.11,18.26 14.22,17.71 14.32,17.18 14.42,16.67 14.50,16.18 14.58,15.71 14.64,15.25 14.69,14.81 14.73,14.37 14.75,13.95 14.76,13.54 14.76,13.14 14.73,12.74 14.69,12.35 14.64,11.98 14.56,11.62 14.46,11.27 14.35,10.94 14.22,10.62 14.07,10.32 13.91,10.04 13.73,9.77 13.53,9.52 13.32,9.29 13.09,9.08 12.84,8.88 12.56,8.71 12.28,8.57 11.99,8.46 11.69,8.37 11.38,8.31 11.07,8.28 10.75,8.27 10.43,8.29 10.12,8.34 9.80,8.42 9.49,8.52 9.19,8.66 8.89,8.82 8.59,9.00 8.30,9.20 8.01,9.42 7.72,9.65 7.44,9.90 7.16,10.15 6.90,10.41 6.65,10.68 6.41,10.96 6.19,11.24 5.98,11.53 5.79,11.83 5.62,12.14 5.46,12.46 5.32,12.77 5.19,13.09 5.07,13.40 4.94,13.71 4.83,14.02 4.71,14.32 4.59,14.62 4.46,14.91 4.40,15.10 4.42,15.30 4.52,15.47 4.68,15.59 4.87,15.65 5.07,15.63 5.24,15.53Z"/><circle cx="1.90" cy="32.10" r="1.9"/><circle cx="13.80" cy="2.00" r="2.0"/></g>
<g transform="translate(341.10 376.60) scale(0.7750 0.8035)"><path d="M8.48,0.13 8.18,0.37 7.89,0.59 7.60,0.80 7.30,1.00 6.99,1.21 6.68,1.44 6.36,1.68 6.04,1.94 5.71,2.24 5.39,2.57 5.06,2.95 4.74,3.36 4.42,3.80 4.10,4.28 3.77,4.80 3.44,5.34 3.12,5.91 2.79,6.49 2.48,7.09 2.17,7.71 1.89,8.33 1.62,8.96 1.37,9.58 1.15,10.20 0.96,10.81 0.79,11.43 0.63,12.05 0.50,12.68 0.38,13.31 0.28,13.94 0.19,14.57 0.12,15.21 0.07,15.84 0.03,16.47 0.01,17.10 0.00,17.73 0.01,18.36 0.03,18.99 0.07,19.63 0.12,20.27 0.19,20.91 0.28,21.55 0.38,22.18 0.50,22.82 0.63,23.44 0.79,24.06 0.96,24.67 1.16,25.27 1.38,25.87 1.63,26.47 1.90,27.05 2.19,27.63 2.49,28.19 2.81,28.74 3.13,29.27 3.46,29.79 3.79,30.28 4.11,30.75 4.43,31.20 4.74,31.63 5.05,32.04 5.37,32.42 5.69,32.77 6.01,33.10 6.32,33.40 6.64,33.69 6.95,33.96 7.25,34.23 7.56,34.49 7.86,34.75 8.15,35.02 8.45,35.31 8.60,35.42 8.78,35.47 8.97,35.44 9.13,35.35 9.24,35.20 9.29,35.02 9.26,34.83 9.17,34.67 8.91,34.33 8.64,34.00 8.38,33.69 8.12,33.38 7.86,33.07 7.61,32.76 7.36,32.45 7.12,32.13 6.88,31.80 6.64,31.45 6.41,31.09 6.18,30.69 5.94,30.25 5.68,29.79 5.42,29.30 5.16,28.80 4.90,28.29 4.65,27.76 4.41,27.23 4.18,26.69 3.96,26.15 3.77,25.62 3.59,25.09 3.44,24.57 3.31,24.04 3.19,23.49 3.09,22.94 2.99,22.37 2.92,21.80 2.85,21.22 2.80,20.64 2.75,20.06 2.72,19.47 2.70,18.89 2.68,18.31 2.68,17.73 2.68,17.16 2.70,16.58 2.72,16.00 2.75,15.42 2.80,14.85 2.85,14.27 2.92,13.70 2.99,13.12 3.09,12.56 3.19,11.99 3.31,11.43 3.45,10.88 3.60,10.33 3.78,9.75 3.98,9.17 4.19,8.58 4.43,7.98 4.67,7.40 4.92,6.82 5.18,6.26 5.44,5.72 5.69,5.21 5.94,4.74 6.18,4.30 6.40,3.92 6.63,3.58 6.85,3.27 7.08,2.98 7.32,2.71 7.57,2.45 7.82,2.20 8.07,1.94 8.34,1.68 8.61,1.41 8.88,1.12 9.14,0.83 9.25,0.67 9.29,0.49 9.26,0.31 9.16,0.15 9.00,0.04 8.82,0.00 8.64,0.03Z"/></g>
<g transform="translate(351.60 385.10) scale(0.8033)"><path d="M1.03,6.54 1.14,6.34 1.25,6.14 1.36,5.94 1.46,5.74 1.56,5.54 1.66,5.35 1.77,5.16 1.87,4.98 1.98,4.80 2.09,4.63 2.21,4.47 2.34,4.31 2.48,4.15 2.63,3.98 2.79,3.81 2.95,3.64 3.12,3.48 3.29,3.33 3.46,3.18 3.63,3.04 3.79,2.92 3.95,2.81 4.09,2.72 4.23,2.65 4.36,2.58 4.49,2.53 4.62,2.49 4.74,2.46 4.85,2.43 4.96,2.42 5.07,2.41 5.17,2.41 5.26,2.42 5.35,2.44 5.44,2.46 5.52,2.49 5.61,2.52 5.70,2.57 5.81,2.62 5.92,2.69 6.03,2.76 6.14,2.84 6.24,2.92 6.32,3.00 6.39,3.07 6.44,3.14 6.45,3.18 6.44,3.21 6.43,3.23 6.42,3.24 6.41,3.26 6.39,3.28 6.38,3.31 6.38,3.36 6.37,3.43 6.36,3.52 6.35,3.63 6.33,3.77 6.32,3.93 6.30,4.10 6.27,4.26 6.24,4.44 6.20,4.64 6.15,4.87 6.09,5.11 6.02,5.36 5.96,5.63 5.88,5.90 5.81,6.19 5.73,6.48 5.66,6.77 5.59,7.06 5.52,7.34 5.44,7.63 5.35,7.94 5.26,8.27 5.16,8.61 5.06,8.95 4.96,9.30 4.87,9.65 4.78,10.00 4.70,10.34 4.63,10.68 4.57,11.01 4.53,11.30 4.50,11.58 4.48,11.85 4.46,12.11 4.45,12.37 4.45,12.62 4.46,12.87 4.48,13.12 4.51,13.36 4.55,13.60 4.60,13.84 4.66,14.07 4.73,14.29 4.82,14.51 4.91,14.72 5.01,14.93 5.13,15.14 5.26,15.34 5.41,15.54 5.57,15.72 5.74,15.90 5.92,16.06 6.12,16.21 6.32,16.35 6.54,16.47 6.76,16.58 6.98,16.68 7.21,16.76 7.45,16.84 7.69,16.90 7.94,16.96 8.19,17.00 8.44,17.03 8.69,17.05 8.95,17.06 9.20,17.05 9.45,17.03 9.69,17.00 9.94,16.95 10.18,16.89 10.43,16.83 10.67,16.75 10.91,16.67 11.14,16.57 11.38,16.47 11.61,16.36 11.83,16.24 12.06,16.12 12.27,15.99 12.48,15.85 12.69,15.71 12.90,15.55 13.10,15.39 13.31,15.22 13.51,15.04 13.71,14.85 13.90,14.66 14.10,14.45 14.29,14.23 14.48,14.00 14.66,13.77 14.85,13.52 15.03,13.26 15.21,13.00 15.39,12.72 15.57,12.44 15.74,12.14 15.91,11.84 16.08,11.53 16.24,11.21 16.40,10.89 16.56,10.56 16.71,10.22 16.85,9.86 16.99,9.50 17.13,9.12 17.26,8.75 17.39,8.37 17.51,7.98 17.63,7.60 17.75,7.22 17.86,6.84 17.97,6.47 18.08,6.10 18.19,5.72 18.29,5.35 18.39,4.98 18.48,4.60 18.57,4.23 18.66,3.86 18.74,3.50 18.82,3.13 18.91,2.77 18.99,2.41 19.08,2.05 19.16,1.69 19.17,1.27 19.02,0.89 18.74,0.59 18.36,0.43 17.95,0.42 17.56,0.57 17.27,0.86 17.10,1.23 17.03,1.60 16.96,1.97 16.89,2.35 16.82,2.71 16.75,3.08 16.68,3.44 16.61,3.81 16.54,4.17 16.46,4.53 16.39,4.89 16.31,5.24 16.22,5.60 16.13,5.97 16.04,6.35 15.95,6.72 15.86,7.10 15.76,7.48 15.66,7.85 15.56,8.22 15.46,8.58 15.35,8.93 15.24,9.26 15.13,9.59 15.01,9.90 14.88,10.20 14.75,10.50 14.62,10.79 14.47,11.07 14.33,11.35 14.18,11.62 14.03,11.88 13.88,12.13 13.72,12.37 13.56,12.61 13.41,12.83 13.25,13.04 13.09,13.23 12.94,13.42 12.78,13.59 12.62,13.76 12.46,13.91 12.30,14.06 12.13,14.20 11.97,14.33 11.80,14.45 11.63,14.56 11.46,14.66 11.29,14.76 11.12,14.85 10.94,14.93 10.76,15.00 10.58,15.06 10.39,15.12 10.21,15.16 10.03,15.20 9.85,15.23 9.67,15.25 9.51,15.26 9.35,15.26 9.20,15.25 9.06,15.23 8.92,15.20 8.77,15.16 8.62,15.11 8.47,15.05 8.33,14.98 8.19,14.91 8.06,14.83 7.95,14.75 7.85,14.67 7.76,14.60 7.70,14.53 7.66,14.46 7.62,14.39 7.60,14.33 7.58,14.26 7.56,14.18 7.54,14.11 7.53,14.02 7.52,13.93 7.52,13.84 7.51,13.73 7.50,13.62 7.50,13.51 7.50,13.39 7.51,13.28 7.52,13.17 7.53,13.04 7.55,12.91 7.57,12.77 7.60,12.62 7.63,12.45 7.67,12.27 7.71,12.08 7.76,11.87 7.81,11.65 7.87,11.43 7.94,11.18 8.03,10.91 8.13,10.61 8.23,10.30 8.34,9.97 8.46,9.63 8.57,9.29 8.68,8.94 8.79,8.60 8.89,8.25 8.98,7.92 9.05,7.61 9.12,7.31 9.19,7.01 9.26,6.70 9.32,6.39 9.38,6.09 9.44,5.78 9.49,5.48 9.53,5.18 9.56,4.88 9.58,4.58 9.59,4.30 9.59,4.05 9.58,3.81 9.57,3.57 9.54,3.33 9.50,3.08 9.45,2.83 9.38,2.58 9.29,2.32 9.17,2.07 9.03,1.83 8.87,1.60 8.68,1.37 8.46,1.16 8.23,0.98 7.99,0.83 7.75,0.70 7.50,0.59 7.26,0.49 7.01,0.41 6.76,0.34 6.51,0.29 6.26,0.25 6.01,0.22 5.76,0.21 5.52,0.22 5.29,0.24 5.06,0.27 4.84,0.32 4.62,0.38 4.40,0.46 4.19,0.55 3.99,0.65 3.79,0.76 3.59,0.88 3.40,1.01 3.22,1.15 3.03,1.31 2.84,1.49 2.66,1.67 2.49,1.87 2.32,2.07 2.15,2.28 1.99,2.49 1.83,2.70 1.68,2.92 1.54,3.13 1.40,3.34 1.27,3.55 1.14,3.76 1.01,3.97 0.90,4.19 0.79,4.40 0.69,4.62 0.60,4.83 0.51,5.04 0.42,5.24 0.33,5.44 0.24,5.64 0.15,5.84 0.06,6.04 0.00,6.24 0.02,6.45 0.13,6.64 0.29,6.77 0.50,6.83 0.71,6.81 0.89,6.71Z"/><path d="M17.00,1.19 16.92,1.66 16.84,2.13 16.76,2.60 16.68,3.07 16.59,3.54 16.51,4.01 16.43,4.48 16.35,4.94 16.27,5.40 16.20,5.85 16.13,6.29 16.06,6.72 15.99,7.16 15.92,7.59 15.85,8.03 15.78,8.47 15.71,8.91 15.64,9.35 15.58,9.77 15.52,10.18 15.46,10.58 15.42,10.97 15.38,11.33 15.34,11.67 15.32,11.97 15.31,12.24 15.29,12.50 15.29,12.74 15.28,12.97 15.29,13.20 15.30,13.43 15.31,13.65 15.34,13.88 15.38,14.10 15.42,14.33 15.48,14.55 15.55,14.77 15.63,14.97 15.73,15.17 15.84,15.36 15.96,15.55 16.09,15.73 16.25,15.90 16.43,16.06 16.63,16.21 16.85,16.34 17.10,16.43 17.35,16.48 17.56,16.50 17.75,16.49 17.95,16.47 18.16,16.43 18.37,16.38 18.58,16.30 18.79,16.20 18.99,16.08 19.19,15.94 19.39,15.78 19.58,15.59 19.77,15.38 19.95,15.14 20.12,14.88 20.30,14.60 20.47,14.30 20.64,13.98 20.82,13.66 20.99,13.32 21.17,12.99 21.34,12.66 21.51,12.33 21.67,12.02 21.84,11.72 21.91,11.52 21.90,11.31 21.81,11.12 21.65,10.97 21.46,10.90 21.24,10.91 21.05,11.00 20.91,11.16 20.71,11.45 20.51,11.76 20.31,12.08 20.12,12.39 19.92,12.71 19.73,13.02 19.53,13.32 19.35,13.60 19.17,13.85 19.00,14.07 18.84,14.26 18.70,14.40 18.57,14.50 18.45,14.59 18.33,14.65 18.23,14.69 18.14,14.71 18.07,14.72 18.00,14.72 17.94,14.71 17.89,14.69 17.85,14.67 17.82,14.64 17.82,14.62 17.87,14.60 17.93,14.60 17.99,14.60 18.03,14.60 18.06,14.58 18.08,14.55 18.10,14.50 18.11,14.45 18.13,14.38 18.14,14.30 18.15,14.21 18.16,14.12 18.18,14.04 18.20,13.95 18.23,13.86 18.26,13.75 18.30,13.62 18.33,13.47 18.38,13.30 18.42,13.10 18.47,12.88 18.52,12.64 18.57,12.36 18.62,12.07 18.67,11.76 18.72,11.43 18.78,11.07 18.84,10.68 18.91,10.27 18.97,9.85 19.04,9.42 19.10,8.97 19.17,8.52 19.22,8.06 19.28,7.61 19.33,7.15 19.37,6.70 19.41,6.24 19.45,5.78 19.48,5.31 19.51,4.84 19.54,4.36 19.56,3.88 19.59,3.40 19.62,2.93 19.64,2.45 19.67,1.98 19.70,1.51 19.66,0.98 19.42,0.51 19.01,0.16 18.51,0.00 17.98,0.04 17.51,0.28 17.17,0.69Z"/></g>
<g transform="translate(372.30 376.60) scale(0.7750 0.8035)"><path d="M0.15,0.83 0.41,1.12 0.68,1.41 0.95,1.68 1.22,1.94 1.47,2.20 1.72,2.45 1.97,2.71 2.21,2.98 2.44,3.27 2.66,3.58 2.89,3.92 3.11,4.30 3.35,4.74 3.60,5.21 3.85,5.72 4.11,6.26 4.37,6.82 4.62,7.40 4.86,7.98 5.10,8.58 5.31,9.17 5.51,9.75 5.69,10.33 5.84,10.88 5.98,11.43 6.10,11.99 6.20,12.56 6.30,13.12 6.37,13.70 6.44,14.27 6.49,14.85 6.54,15.42 6.57,16.00 6.59,16.58 6.61,17.16 6.61,17.73 6.61,18.31 6.59,18.89 6.57,19.47 6.54,20.06 6.49,20.64 6.44,21.22 6.37,21.80 6.30,22.37 6.20,22.94 6.10,23.49 5.98,24.04 5.85,24.57 5.70,25.09 5.52,25.62 5.33,26.15 5.11,26.69 4.88,27.23 4.64,27.76 4.39,28.29 4.13,28.80 3.87,29.30 3.61,29.79 3.35,30.25 3.11,30.69 2.88,31.09 2.65,31.45 2.41,31.80 2.17,32.13 1.93,32.45 1.68,32.76 1.43,33.07 1.17,33.38 0.91,33.69 0.65,34.00 0.38,34.33 0.12,34.67 0.03,34.83 0.00,35.02 0.05,35.20 0.16,35.35 0.32,35.44 0.51,35.47 0.69,35.42 0.84,35.31 1.14,35.02 1.43,34.75 1.73,34.49 2.04,34.23 2.34,33.96 2.65,33.69 2.97,33.40 3.28,33.10 3.60,32.77 3.92,32.42 4.24,32.04 4.55,31.63 4.86,31.20 5.18,30.75 5.50,30.28 5.83,29.79 6.16,29.27 6.48,28.74 6.80,28.19 7.10,27.63 7.39,27.05 7.66,26.47 7.91,25.87 8.13,25.27 8.33,24.67 8.50,24.06 8.66,23.44 8.79,22.82 8.91,22.18 9.01,21.55 9.10,20.91 9.17,20.27 9.22,19.63 9.26,18.99 9.28,18.36 9.29,17.73 9.28,17.10 9.26,16.47 9.22,15.84 9.17,15.21 9.10,14.57 9.01,13.94 8.91,13.31 8.79,12.68 8.66,12.05 8.50,11.43 8.33,10.81 8.14,10.20 7.92,9.58 7.67,8.96 7.40,8.33 7.12,7.71 6.81,7.09 6.50,6.49 6.17,5.91 5.85,5.34 5.52,4.80 5.19,4.28 4.87,3.80 4.55,3.36 4.23,2.95 3.90,2.57 3.57,2.24 3.25,1.94 2.93,1.68 2.61,1.44 2.30,1.21 1.99,1.00 1.69,0.80 1.40,0.59 1.11,0.37 0.81,0.13 0.65,0.03 0.47,0.00 0.29,0.04 0.13,0.15 0.03,0.31 0.00,0.49 0.04,0.67Z"/></g>
<g transform="translate(338.10 411.75) scale(1.0000 0.9770)"><path d="M0.00,1.90 2.70,1.10 5.00,0.20 7.10,0.00 7.10,18.00 10.90,18.00 10.90,19.60 0.40,19.60 0.40,18.00 4.20,18.00 4.20,2.30 0.10,3.30Z"/></g>
<g transform="translate(416.20 391.42) scale(0.8970)"><path d="M1.26,19.69 1.35,19.45 1.44,19.20 1.52,18.96 1.60,18.72 1.68,18.49 1.76,18.26 1.84,18.04 1.93,17.82 2.02,17.60 2.12,17.39 2.22,17.18 2.34,16.97 2.47,16.74 2.61,16.50 2.76,16.26 2.92,16.02 3.07,15.79 3.24,15.56 3.41,15.33 3.58,15.11 3.75,14.91 3.93,14.72 4.10,14.54 4.28,14.38 4.47,14.22 4.67,14.06 4.87,13.91 5.09,13.77 5.30,13.63 5.53,13.50 5.75,13.38 5.98,13.26 6.20,13.16 6.43,13.07 6.65,12.99 6.87,12.92 7.10,12.86 7.35,12.79 7.61,12.74 7.87,12.69 8.13,12.65 8.38,12.62 8.62,12.61 8.84,12.60 9.03,12.62 9.18,12.64 9.28,12.67 9.35,12.71 9.42,12.75 9.51,12.81 9.58,12.87 9.64,12.93 9.68,12.99 9.72,13.05 9.75,13.12 9.78,13.19 9.81,13.28 9.83,13.37 9.85,13.49 9.86,13.62 9.87,13.78 9.87,14.01 9.86,14.28 9.83,14.60 9.80,14.95 9.74,15.32 9.68,15.70 9.61,16.10 9.53,16.49 9.45,16.88 9.36,17.25 9.27,17.60 9.17,17.92 9.07,18.24 8.95,18.57 8.82,18.92 8.67,19.26 8.52,19.62 8.36,19.98 8.19,20.35 8.02,20.72 7.86,21.10 7.69,21.48 7.53,21.86 7.38,22.20 7.23,22.54 7.08,22.87 6.93,23.19 6.78,23.52 6.63,23.85 6.48,24.17 6.33,24.50 6.18,24.83 6.03,25.17 5.89,25.51 5.75,25.84 5.62,26.15 5.49,26.46 5.34,26.78 5.19,27.12 5.04,27.46 4.89,27.81 4.75,28.17 4.61,28.54 4.48,28.92 4.37,29.30 4.27,29.70 4.20,30.10 4.16,30.47 4.14,30.83 4.13,31.18 4.14,31.54 4.17,31.90 4.22,32.25 4.29,32.61 4.39,32.96 4.51,33.31 4.68,33.67 4.89,34.02 5.15,34.35 5.46,34.63 5.78,34.85 6.11,35.02 6.44,35.15 6.79,35.24 7.14,35.29 7.49,35.32 7.85,35.30 8.21,35.26 8.57,35.17 8.92,35.05 9.27,34.88 9.59,34.67 9.88,34.43 10.16,34.17 10.42,33.89 10.67,33.60 10.92,33.30 11.16,33.00 11.40,32.68 11.63,32.37 11.85,32.07 12.06,31.77 12.27,31.49 12.48,31.20 12.68,30.90 12.88,30.61 13.07,30.31 13.25,30.01 13.44,29.71 13.62,29.41 13.79,29.11 13.97,28.82 14.15,28.52 14.32,28.23 14.50,27.94 14.59,27.75 14.59,27.55 14.52,27.36 14.38,27.21 14.19,27.13 13.98,27.12 13.79,27.20 13.65,27.34 13.43,27.61 13.22,27.89 13.01,28.17 12.80,28.44 12.59,28.72 12.38,28.99 12.18,29.26 11.97,29.52 11.76,29.78 11.54,30.03 11.32,30.27 11.10,30.51 10.86,30.76 10.60,31.02 10.35,31.29 10.09,31.55 9.83,31.81 9.57,32.05 9.32,32.27 9.08,32.46 8.85,32.63 8.64,32.75 8.47,32.83 8.34,32.86 8.24,32.86 8.13,32.85 8.03,32.83 7.92,32.79 7.82,32.74 7.74,32.68 7.66,32.62 7.60,32.56 7.57,32.49 7.57,32.44 7.59,32.41 7.66,32.43 7.72,32.46 7.77,32.46 7.80,32.41 7.83,32.33 7.86,32.22 7.89,32.08 7.93,31.91 7.98,31.73 8.03,31.54 8.09,31.34 8.15,31.13 8.21,30.94 8.27,30.76 8.35,30.57 8.44,30.35 8.55,30.10 8.68,29.83 8.81,29.53 8.96,29.23 9.11,28.90 9.27,28.57 9.43,28.23 9.59,27.87 9.74,27.52 9.88,27.20 10.01,26.88 10.15,26.56 10.28,26.24 10.42,25.91 10.56,25.58 10.71,25.24 10.85,24.89 10.99,24.54 11.14,24.18 11.28,23.81 11.42,23.44 11.56,23.09 11.70,22.74 11.85,22.37 12.01,21.98 12.17,21.58 12.33,21.17 12.49,20.75 12.64,20.32 12.79,19.88 12.92,19.43 13.04,18.96 13.14,18.50 13.22,18.04 13.30,17.58 13.36,17.11 13.41,16.63 13.46,16.15 13.49,15.67 13.51,15.19 13.51,14.72 13.49,14.25 13.46,13.79 13.40,13.34 13.30,12.90 13.18,12.49 13.02,12.09 12.83,11.73 12.61,11.38 12.37,11.07 12.09,10.79 11.80,10.54 11.50,10.32 11.18,10.14 10.86,9.99 10.53,9.87 10.18,9.77 9.79,9.70 9.40,9.68 9.01,9.68 8.64,9.72 8.28,9.77 7.92,9.85 7.56,9.93 7.22,10.03 6.88,10.14 6.55,10.26 6.24,10.39 5.94,10.52 5.64,10.66 5.35,10.82 5.06,10.99 4.77,11.17 4.49,11.35 4.22,11.55 3.96,11.76 3.70,11.97 3.46,12.19 3.22,12.42 2.99,12.66 2.77,12.90 2.55,13.16 2.35,13.44 2.16,13.71 1.98,14.00 1.81,14.29 1.65,14.57 1.50,14.86 1.36,15.15 1.23,15.44 1.10,15.71 0.98,15.99 0.87,16.25 0.76,16.53 0.66,16.80 0.57,17.07 0.50,17.34 0.43,17.60 0.37,17.85 0.31,18.10 0.25,18.34 0.20,18.58 0.15,18.82 0.09,19.05 0.03,19.29 0.00,19.54 0.07,19.79 0.23,19.98 0.45,20.11 0.70,20.13 0.94,20.07 1.14,19.91Z"/><circle cx="11.00" cy="2.50" r="2.5"/></g>
<g transform="translate(434.40 374.00) scale(0.8181 0.8966)"><path d="M8.48,0.13 8.18,0.37 7.89,0.59 7.60,0.80 7.30,1.00 6.99,1.21 6.68,1.44 6.36,1.68 6.04,1.94 5.71,2.24 5.39,2.57 5.06,2.95 4.74,3.36 4.42,3.80 4.10,4.28 3.77,4.80 3.44,5.34 3.12,5.91 2.79,6.49 2.48,7.09 2.17,7.71 1.89,8.33 1.62,8.96 1.37,9.58 1.15,10.20 0.96,10.81 0.79,11.43 0.63,12.05 0.50,12.68 0.38,13.31 0.28,13.94 0.19,14.57 0.12,15.21 0.07,15.84 0.03,16.47 0.01,17.10 0.00,17.73 0.01,18.36 0.03,18.99 0.07,19.63 0.12,20.27 0.19,20.91 0.28,21.55 0.38,22.18 0.50,22.82 0.63,23.44 0.79,24.06 0.96,24.67 1.16,25.27 1.38,25.87 1.63,26.47 1.90,27.05 2.19,27.63 2.49,28.19 2.81,28.74 3.13,29.27 3.46,29.79 3.79,30.28 4.11,30.75 4.43,31.20 4.74,31.63 5.05,32.04 5.37,32.42 5.69,32.77 6.01,33.10 6.32,33.40 6.64,33.69 6.95,33.96 7.25,34.23 7.56,34.49 7.86,34.75 8.15,35.02 8.45,35.31 8.60,35.42 8.78,35.47 8.97,35.44 9.13,35.35 9.24,35.20 9.29,35.02 9.26,34.83 9.17,34.67 8.91,34.33 8.64,34.00 8.38,33.69 8.12,33.38 7.86,33.07 7.61,32.76 7.36,32.45 7.12,32.13 6.88,31.80 6.64,31.45 6.41,31.09 6.18,30.69 5.94,30.25 5.68,29.79 5.42,29.30 5.16,28.80 4.90,28.29 4.65,27.76 4.41,27.23 4.18,26.69 3.96,26.15 3.77,25.62 3.59,25.09 3.44,24.57 3.31,24.04 3.19,23.49 3.09,22.94 2.99,22.37 2.92,21.80 2.85,21.22 2.80,20.64 2.75,20.06 2.72,19.47 2.70,18.89 2.68,18.31 2.68,17.73 2.68,17.16 2.70,16.58 2.72,16.00 2.75,15.42 2.80,14.85 2.85,14.27 2.92,13.70 2.99,13.12 3.09,12.56 3.19,11.99 3.31,11.43 3.45,10.88 3.60,10.33 3.78,9.75 3.98,9.17 4.19,8.58 4.43,7.98 4.67,7.40 4.92,6.82 5.18,6.26 5.44,5.72 5.69,5.21 5.94,4.74 6.18,4.30 6.40,3.92 6.63,3.58 6.85,3.27 7.08,2.98 7.32,2.71 7.57,2.45 7.82,2.20 8.07,1.94 8.34,1.68 8.61,1.41 8.88,1.12 9.14,0.83 9.25,0.67 9.29,0.49 9.26,0.31 9.16,0.15 9.00,0.04 8.82,0.00 8.64,0.03Z"/></g>
<g transform="translate(446.60 383.82) scale(0.8900)"><path d="M1.03,6.54 1.14,6.34 1.25,6.14 1.36,5.94 1.46,5.74 1.56,5.54 1.66,5.35 1.77,5.16 1.87,4.98 1.98,4.80 2.09,4.63 2.21,4.47 2.34,4.31 2.48,4.15 2.63,3.98 2.79,3.81 2.95,3.64 3.12,3.48 3.29,3.33 3.46,3.18 3.63,3.04 3.79,2.92 3.95,2.81 4.09,2.72 4.23,2.65 4.36,2.58 4.49,2.53 4.62,2.49 4.74,2.46 4.85,2.43 4.96,2.42 5.07,2.41 5.17,2.41 5.26,2.42 5.35,2.44 5.44,2.46 5.52,2.49 5.61,2.52 5.70,2.57 5.81,2.62 5.92,2.69 6.03,2.76 6.14,2.84 6.24,2.92 6.32,3.00 6.39,3.07 6.44,3.14 6.45,3.18 6.44,3.21 6.43,3.23 6.42,3.24 6.41,3.26 6.39,3.28 6.38,3.31 6.38,3.36 6.37,3.43 6.36,3.52 6.35,3.63 6.33,3.77 6.32,3.93 6.30,4.10 6.27,4.26 6.24,4.44 6.20,4.64 6.15,4.87 6.09,5.11 6.02,5.36 5.96,5.63 5.88,5.90 5.81,6.19 5.73,6.48 5.66,6.77 5.59,7.06 5.52,7.34 5.44,7.63 5.35,7.94 5.26,8.27 5.16,8.61 5.06,8.95 4.96,9.30 4.87,9.65 4.78,10.00 4.70,10.34 4.63,10.68 4.57,11.01 4.53,11.30 4.50,11.58 4.48,11.85 4.46,12.11 4.45,12.37 4.45,12.62 4.46,12.87 4.48,13.12 4.51,13.36 4.55,13.60 4.60,13.84 4.66,14.07 4.73,14.29 4.82,14.51 4.91,14.72 5.01,14.93 5.13,15.14 5.26,15.34 5.41,15.54 5.57,15.72 5.74,15.90 5.92,16.06 6.12,16.21 6.32,16.35 6.54,16.47 6.76,16.58 6.98,16.68 7.21,16.76 7.45,16.84 7.69,16.90 7.94,16.96 8.19,17.00 8.44,17.03 8.69,17.05 8.95,17.06 9.20,17.05 9.45,17.03 9.69,17.00 9.94,16.95 10.18,16.89 10.43,16.83 10.67,16.75 10.91,16.67 11.14,16.57 11.38,16.47 11.61,16.36 11.83,16.24 12.06,16.12 12.27,15.99 12.48,15.85 12.69,15.71 12.90,15.55 13.10,15.39 13.31,15.22 13.51,15.04 13.71,14.85 13.90,14.66 14.10,14.45 14.29,14.23 14.48,14.00 14.66,13.77 14.85,13.52 15.03,13.26 15.21,13.00 15.39,12.72 15.57,12.44 15.74,12.14 15.91,11.84 16.08,11.53 16.24,11.21 16.40,10.89 16.56,10.56 16.71,10.22 16.85,9.86 16.99,9.50 17.13,9.12 17.26,8.75 17.39,8.37 17.51,7.98 17.63,7.60 17.75,7.22 17.86,6.84 17.97,6.47 18.08,6.10 18.19,5.72 18.29,5.35 18.39,4.98 18.48,4.60 18.57,4.23 18.66,3.86 18.74,3.50 18.82,3.13 18.91,2.77 18.99,2.41 19.08,2.05 19.16,1.69 19.17,1.27 19.02,0.89 18.74,0.59 18.36,0.43 17.95,0.42 17.56,0.57 17.27,0.86 17.10,1.23 17.03,1.60 16.96,1.97 16.89,2.35 16.82,2.71 16.75,3.08 16.68,3.44 16.61,3.81 16.54,4.17 16.46,4.53 16.39,4.89 16.31,5.24 16.22,5.60 16.13,5.97 16.04,6.35 15.95,6.72 15.86,7.10 15.76,7.48 15.66,7.85 15.56,8.22 15.46,8.58 15.35,8.93 15.24,9.26 15.13,9.59 15.01,9.90 14.88,10.20 14.75,10.50 14.62,10.79 14.47,11.07 14.33,11.35 14.18,11.62 14.03,11.88 13.88,12.13 13.72,12.37 13.56,12.61 13.41,12.83 13.25,13.04 13.09,13.23 12.94,13.42 12.78,13.59 12.62,13.76 12.46,13.91 12.30,14.06 12.13,14.20 11.97,14.33 11.80,14.45 11.63,14.56 11.46,14.66 11.29,14.76 11.12,14.85 10.94,14.93 10.76,15.00 10.58,15.06 10.39,15.12 10.21,15.16 10.03,15.20 9.85,15.23 9.67,15.25 9.51,15.26 9.35,15.26 9.20,15.25 9.06,15.23 8.92,15.20 8.77,15.16 8.62,15.11 8.47,15.05 8.33,14.98 8.19,14.91 8.06,14.83 7.95,14.75 7.85,14.67 7.76,14.60 7.70,14.53 7.66,14.46 7.62,14.39 7.60,14.33 7.58,14.26 7.56,14.18 7.54,14.11 7.53,14.02 7.52,13.93 7.52,13.84 7.51,13.73 7.50,13.62 7.50,13.51 7.50,13.39 7.51,13.28 7.52,13.17 7.53,13.04 7.55,12.91 7.57,12.77 7.60,12.62 7.63,12.45 7.67,12.27 7.71,12.08 7.76,11.87 7.81,11.65 7.87,11.43 7.94,11.18 8.03,10.91 8.13,10.61 8.23,10.30 8.34,9.97 8.46,9.63 8.57,9.29 8.68,8.94 8.79,8.60 8.89,8.25 8.98,7.92 9.05,7.61 9.12,7.31 9.19,7.01 9.26,6.70 9.32,6.39 9.38,6.09 9.44,5.78 9.49,5.48 9.53,5.18 9.56,4.88 9.58,4.58 9.59,4.30 9.59,4.05 9.58,3.81 9.57,3.57 9.54,3.33 9.50,3.08 9.45,2.83 9.38,2.58 9.29,2.32 9.17,2.07 9.03,1.83 8.87,1.60 8.68,1.37 8.46,1.16 8.23,0.98 7.99,0.83 7.75,0.70 7.50,0.59 7.26,0.49 7.01,0.41 6.76,0.34 6.51,0.29 6.26,0.25 6.01,0.22 5.76,0.21 5.52,0.22 5.29,0.24 5.06,0.27 4.84,0.32 4.62,0.38 4.40,0.46 4.19,0.55 3.99,0.65 3.79,0.76 3.59,0.88 3.40,1.01 3.22,1.15 3.03,1.31 2.84,1.49 2.66,1.67 2.49,1.87 2.32,2.07 2.15,2.28 1.99,2.49 1.83,2.70 1.68,2.92 1.54,3.13 1.40,3.34 1.27,3.55 1.14,3.76 1.01,3.97 0.90,4.19 0.79,4.40 0.69,4.62 0.60,4.83 0.51,5.04 0.42,5.24 0.33,5.44 0.24,5.64 0.15,5.84 0.06,6.04 0.00,6.24 0.02,6.45 0.13,6.64 0.29,6.77 0.50,6.83 0.71,6.81 0.89,6.71Z"/><path d="M17.00,1.19 16.92,1.66 16.84,2.13 16.76,2.60 16.68,3.07 16.59,3.54 16.51,4.01 16.43,4.48 16.35,4.94 16.27,5.40 16.20,5.85 16.13,6.29 16.06,6.72 15.99,7.16 15.92,7.59 15.85,8.03 15.78,8.47 15.71,8.91 15.64,9.35 15.58,9.77 15.52,10.18 15.46,10.58 15.42,10.97 15.38,11.33 15.34,11.67 15.32,11.97 15.31,12.24 15.29,12.50 15.29,12.74 15.28,12.97 15.29,13.20 15.30,13.43 15.31,13.65 15.34,13.88 15.38,14.10 15.42,14.33 15.48,14.55 15.55,14.77 15.63,14.97 15.73,15.17 15.84,15.36 15.96,15.55 16.09,15.73 16.25,15.90 16.43,16.06 16.63,16.21 16.85,16.34 17.10,16.43 17.35,16.48 17.56,16.50 17.75,16.49 17.95,16.47 18.16,16.43 18.37,16.38 18.58,16.30 18.79,16.20 18.99,16.08 19.19,15.94 19.39,15.78 19.58,15.59 19.77,15.38 19.95,15.14 20.12,14.88 20.30,14.60 20.47,14.30 20.64,13.98 20.82,13.66 20.99,13.32 21.17,12.99 21.34,12.66 21.51,12.33 21.67,12.02 21.84,11.72 21.91,11.52 21.90,11.31 21.81,11.12 21.65,10.97 21.46,10.90 21.24,10.91 21.05,11.00 20.91,11.16 20.71,11.45 20.51,11.76 20.31,12.08 20.12,12.39 19.92,12.71 19.73,13.02 19.53,13.32 19.35,13.60 19.17,13.85 19.00,14.07 18.84,14.26 18.70,14.40 18.57,14.50 18.45,14.59 18.33,14.65 18.23,14.69 18.14,14.71 18.07,14.72 18.00,14.72 17.94,14.71 17.89,14.69 17.85,14.67 17.82,14.64 17.82,14.62 17.87,14.60 17.93,14.60 17.99,14.60 18.03,14.60 18.06,14.58 18.08,14.55 18.10,14.50 18.11,14.45 18.13,14.38 18.14,14.30 18.15,14.21 18.16,14.12 18.18,14.04 18.20,13.95 18.23,13.86 18.26,13.75 18.30,13.62 18.33,13.47 18.38,13.30 18.42,13.10 18.47,12.88 18.52,12.64 18.57,12.36 18.62,12.07 18.67,11.76 18.72,11.43 18.78,11.07 18.84,10.68 18.91,10.27 18.97,9.85 19.04,9.42 19.10,8.97 19.17,8.52 19.22,8.06 19.28,7.61 19.33,7.15 19.37,6.70 19.41,6.24 19.45,5.78 19.48,5.31 19.51,4.84 19.54,4.36 19.56,3.88 19.59,3.40 19.62,2.93 19.64,2.45 19.67,1.98 19.70,1.51 19.66,0.98 19.42,0.51 19.01,0.16 18.51,0.00 17.98,0.04 17.51,0.28 17.17,0.69Z"/></g>
<g transform="translate(469.60 374.00) scale(0.8719 0.8966)"><path d="M0.15,0.83 0.41,1.12 0.68,1.41 0.95,1.68 1.22,1.94 1.47,2.20 1.72,2.45 1.97,2.71 2.21,2.98 2.44,3.27 2.66,3.58 2.89,3.92 3.11,4.30 3.35,4.74 3.60,5.21 3.85,5.72 4.11,6.26 4.37,6.82 4.62,7.40 4.86,7.98 5.10,8.58 5.31,9.17 5.51,9.75 5.69,10.33 5.84,10.88 5.98,11.43 6.10,11.99 6.20,12.56 6.30,13.12 6.37,13.70 6.44,14.27 6.49,14.85 6.54,15.42 6.57,16.00 6.59,16.58 6.61,17.16 6.61,17.73 6.61,18.31 6.59,18.89 6.57,19.47 6.54,20.06 6.49,20.64 6.44,21.22 6.37,21.80 6.30,22.37 6.20,22.94 6.10,23.49 5.98,24.04 5.85,24.57 5.70,25.09 5.52,25.62 5.33,26.15 5.11,26.69 4.88,27.23 4.64,27.76 4.39,28.29 4.13,28.80 3.87,29.30 3.61,29.79 3.35,30.25 3.11,30.69 2.88,31.09 2.65,31.45 2.41,31.80 2.17,32.13 1.93,32.45 1.68,32.76 1.43,33.07 1.17,33.38 0.91,33.69 0.65,34.00 0.38,34.33 0.12,34.67 0.03,34.83 0.00,35.02 0.05,35.20 0.16,35.35 0.32,35.44 0.51,35.47 0.69,35.42 0.84,35.31 1.14,35.02 1.43,34.75 1.73,34.49 2.04,34.23 2.34,33.96 2.65,33.69 2.97,33.40 3.28,33.10 3.60,32.77 3.92,32.42 4.24,32.04 4.55,31.63 4.86,31.20 5.18,30.75 5.50,30.28 5.83,29.79 6.16,29.27 6.48,28.74 6.80,28.19 7.10,27.63 7.39,27.05 7.66,26.47 7.91,25.87 8.13,25.27 8.33,24.67 8.50,24.06 8.66,23.44 8.79,22.82 8.91,22.18 9.01,21.55 9.10,20.91 9.17,20.27 9.22,19.63 9.26,18.99 9.28,18.36 9.29,17.73 9.28,17.10 9.26,16.47 9.22,15.84 9.17,15.21 9.10,14.57 9.01,13.94 8.91,13.31 8.79,12.68 8.66,12.05 8.50,11.43 8.33,10.81 8.14,10.20 7.92,9.58 7.67,8.96 7.40,8.33 7.12,7.71 6.81,7.09 6.50,6.49 6.17,5.91 5.85,5.34 5.52,4.80 5.19,4.28 4.87,3.80 4.55,3.36 4.23,2.95 3.90,2.57 3.57,2.24 3.25,1.94 2.93,1.68 2.61,1.44 2.30,1.21 1.99,1.00 1.69,0.80 1.40,0.59 1.11,0.37 0.81,0.13 0.65,0.03 0.47,0.00 0.29,0.04 0.13,0.15 0.03,0.31 0.00,0.49 0.04,0.67Z"/></g>
<g transform="translate(433.00 413.80) scale(0.9405 0.9354)"><path d="M1.79,5.90 1.91,5.62 2.03,5.31 2.13,5.02 2.22,4.74 2.30,4.47 2.39,4.22 2.47,3.98 2.56,3.77 2.67,3.57 2.79,3.39 2.92,3.23 3.09,3.08 3.31,2.93 3.57,2.76 3.87,2.60 4.19,2.44 4.53,2.29 4.88,2.16 5.25,2.04 5.61,1.94 5.98,1.85 6.33,1.79 6.66,1.76 6.97,1.74 7.28,1.75 7.60,1.78 7.93,1.82 8.25,1.88 8.57,1.96 8.89,2.05 9.18,2.16 9.47,2.29 9.73,2.42 9.96,2.57 10.17,2.73 10.36,2.89 10.53,3.08 10.70,3.30 10.88,3.55 11.05,3.83 11.21,4.13 11.36,4.44 11.50,4.76 11.61,5.08 11.72,5.40 11.80,5.70 11.85,5.99 11.89,6.25 11.91,6.51 11.92,6.77 11.91,7.05 11.89,7.34 11.85,7.63 11.79,7.94 11.72,8.25 11.63,8.56 11.53,8.88 11.41,9.19 11.28,9.51 11.14,9.81 10.99,10.11 10.81,10.41 10.60,10.72 10.37,11.04 10.12,11.37 9.85,11.70 9.57,12.03 9.27,12.36 8.97,12.69 8.66,13.02 8.36,13.34 8.06,13.65 7.76,13.95 7.46,14.23 7.15,14.51 6.83,14.78 6.51,15.06 6.17,15.33 5.83,15.60 5.49,15.87 5.15,16.14 4.80,16.40 4.46,16.67 4.13,16.93 3.81,17.18 3.50,17.42 3.20,17.66 2.89,17.89 2.58,18.13 2.28,18.35 1.97,18.58 1.66,18.81 1.35,19.04 1.04,19.27 0.73,19.50 0.42,19.74 0.14,20.02 0.00,20.38 0.01,20.77 0.16,21.13 0.44,21.40 0.80,21.55 1.19,21.54 1.55,21.39 1.88,21.18 2.20,20.98 2.53,20.78 2.86,20.58 3.18,20.38 3.51,20.18 3.85,19.97 4.18,19.76 4.52,19.55 4.86,19.33 5.21,19.10 5.55,18.86 5.90,18.63 6.25,18.39 6.61,18.14 6.97,17.89 7.34,17.64 7.72,17.37 8.09,17.10 8.47,16.82 8.84,16.53 9.21,16.23 9.58,15.91 9.93,15.60 10.27,15.28 10.61,14.95 10.95,14.62 11.30,14.27 11.64,13.91 11.98,13.55 12.31,13.17 12.63,12.78 12.94,12.39 13.22,11.98 13.49,11.56 13.72,11.13 13.93,10.72 14.12,10.30 14.29,9.87 14.44,9.44 14.57,8.99 14.68,8.55 14.76,8.10 14.82,7.64 14.85,7.18 14.85,6.72 14.82,6.25 14.75,5.79 14.65,5.34 14.51,4.88 14.34,4.44 14.14,4.00 13.91,3.58 13.67,3.16 13.40,2.76 13.11,2.38 12.81,2.02 12.49,1.68 12.15,1.38 11.79,1.10 11.41,0.85 11.02,0.65 10.61,0.48 10.20,0.33 9.78,0.22 9.36,0.13 8.93,0.07 8.51,0.03 8.09,0.00 7.67,0.00 7.26,0.01 6.86,0.05 6.45,0.10 6.02,0.18 5.60,0.29 5.18,0.41 4.75,0.56 4.34,0.72 3.93,0.89 3.54,1.07 3.16,1.27 2.80,1.47 2.47,1.68 2.16,1.91 1.87,2.16 1.61,2.43 1.39,2.72 1.20,3.01 1.03,3.31 0.89,3.60 0.76,3.88 0.64,4.15 0.53,4.40 0.42,4.64 0.31,4.86 0.18,5.09 0.09,5.43 0.13,5.78 0.30,6.08 0.58,6.30 0.92,6.39 1.27,6.35 1.57,6.18Z"/><path d="M0.52,19.19 13.12,19.19 13.92,16.09 15.52,16.09 15.02,21.59 0.52,21.59Z"/><circle cx="2.02" cy="6.19" r="2.0"/></g>
<g transform="translate(618.00 386.50) scale(0.7900)"><path d="M1.26,19.69 1.35,19.45 1.44,19.20 1.52,18.96 1.60,18.72 1.68,18.49 1.76,18.26 1.84,18.04 1.93,17.82 2.02,17.60 2.12,17.39 2.22,17.18 2.34,16.97 2.47,16.74 2.61,16.50 2.76,16.26 2.92,16.02 3.07,15.79 3.24,15.56 3.41,15.33 3.58,15.11 3.75,14.91 3.93,14.72 4.10,14.54 4.28,14.38 4.47,14.22 4.67,14.06 4.87,13.91 5.09,13.77 5.30,13.63 5.53,13.50 5.75,13.38 5.98,13.26 6.20,13.16 6.43,13.07 6.65,12.99 6.87,12.92 7.10,12.86 7.35,12.79 7.61,12.74 7.87,12.69 8.13,12.65 8.38,12.62 8.62,12.61 8.84,12.60 9.03,12.62 9.18,12.64 9.28,12.67 9.35,12.71 9.42,12.75 9.51,12.81 9.58,12.87 9.64,12.93 9.68,12.99 9.72,13.05 9.75,13.12 9.78,13.19 9.81,13.28 9.83,13.37 9.85,13.49 9.86,13.62 9.87,13.78 9.87,14.01 9.86,14.28 9.83,14.60 9.80,14.95 9.74,15.32 9.68,15.70 9.61,16.10 9.53,16.49 9.45,16.88 9.36,17.25 9.27,17.60 9.17,17.92 9.07,18.24 8.95,18.57 8.82,18.92 8.67,19.26 8.52,19.62 8.36,19.98 8.19,20.35 8.02,20.72 7.86,21.10 7.69,21.48 7.53,21.86 7.38,22.20 7.23,22.54 7.08,22.87 6.93,23.19 6.78,23.52 6.63,23.85 6.48,24.17 6.33,24.50 6.18,24.83 6.03,25.17 5.89,25.51 5.75,25.84 5.62,26.15 5.49,26.46 5.34,26.78 5.19,27.12 5.04,27.46 4.89,27.81 4.75,28.17 4.61,28.54 4.48,28.92 4.37,29.30 4.27,29.70 4.20,30.10 4.16,30.47 4.14,30.83 4.13,31.18 4.14,31.54 4.17,31.90 4.22,32.25 4.29,32.61 4.39,32.96 4.51,33.31 4.68,33.67 4.89,34.02 5.15,34.35 5.46,34.63 5.78,34.85 6.11,35.02 6.44,35.15 6.79,35.24 7.14,35.29 7.49,35.32 7.85,35.30 8.21,35.26 8.57,35.17 8.92,35.05 9.27,34.88 9.59,34.67 9.88,34.43 10.16,34.17 10.42,33.89 10.67,33.60 10.92,33.30 11.16,33.00 11.40,32.68 11.63,32.37 11.85,32.07 12.06,31.77 12.27,31.49 12.48,31.20 12.68,30.90 12.88,30.61 13.07,30.31 13.25,30.01 13.44,29.71 13.62,29.41 13.79,29.11 13.97,28.82 14.15,28.52 14.32,28.23 14.50,27.94 14.59,27.75 14.59,27.55 14.52,27.36 14.38,27.21 14.19,27.13 13.98,27.12 13.79,27.20 13.65,27.34 13.43,27.61 13.22,27.89 13.01,28.17 12.80,28.44 12.59,28.72 12.38,28.99 12.18,29.26 11.97,29.52 11.76,29.78 11.54,30.03 11.32,30.27 11.10,30.51 10.86,30.76 10.60,31.02 10.35,31.29 10.09,31.55 9.83,31.81 9.57,32.05 9.32,32.27 9.08,32.46 8.85,32.63 8.64,32.75 8.47,32.83 8.34,32.86 8.24,32.86 8.13,32.85 8.03,32.83 7.92,32.79 7.82,32.74 7.74,32.68 7.66,32.62 7.60,32.56 7.57,32.49 7.57,32.44 7.59,32.41 7.66,32.43 7.72,32.46 7.77,32.46 7.80,32.41 7.83,32.33 7.86,32.22 7.89,32.08 7.93,31.91 7.98,31.73 8.03,31.54 8.09,31.34 8.15,31.13 8.21,30.94 8.27,30.76 8.35,30.57 8.44,30.35 8.55,30.10 8.68,29.83 8.81,29.53 8.96,29.23 9.11,28.90 9.27,28.57 9.43,28.23 9.59,27.87 9.74,27.52 9.88,27.20 10.01,26.88 10.15,26.56 10.28,26.24 10.42,25.91 10.56,25.58 10.71,25.24 10.85,24.89 10.99,24.54 11.14,24.18 11.28,23.81 11.42,23.44 11.56,23.09 11.70,22.74 11.85,22.37 12.01,21.98 12.17,21.58 12.33,21.17 12.49,20.75 12.64,20.32 12.79,19.88 12.92,19.43 13.04,18.96 13.14,18.50 13.22,18.04 13.30,17.58 13.36,17.11 13.41,16.63 13.46,16.15 13.49,15.67 13.51,15.19 13.51,14.72 13.49,14.25 13.46,13.79 13.40,13.34 13.30,12.90 13.18,12.49 13.02,12.09 12.83,11.73 12.61,11.38 12.37,11.07 12.09,10.79 11.80,10.54 11.50,10.32 11.18,10.14 10.86,9.99 10.53,9.87 10.18,9.77 9.79,9.70 9.40,9.68 9.01,9.68 8.64,9.72 8.28,9.77 7.92,9.85 7.56,9.93 7.22,10.03 6.88,10.14 6.55,10.26 6.24,10.39 5.94,10.52 5.64,10.66 5.35,10.82 5.06,10.99 4.77,11.17 4.49,11.35 4.22,11.55 3.96,11.76 3.70,11.97 3.46,12.19 3.22,12.42 2.99,12.66 2.77,12.90 2.55,13.16 2.35,13.44 2.16,13.71 1.98,14.00 1.81,14.29 1.65,14.57 1.50,14.86 1.36,15.15 1.23,15.44 1.10,15.71 0.98,15.99 0.87,16.25 0.76,16.53 0.66,16.80 0.57,17.07 0.50,17.34 0.43,17.60 0.37,17.85 0.31,18.10 0.25,18.34 0.20,18.58 0.15,18.82 0.09,19.05 0.03,19.29 0.00,19.54 0.07,19.79 0.23,19.98 0.45,20.11 0.70,20.13 0.94,20.07 1.14,19.91Z"/><circle cx="11.00" cy="2.50" r="2.5"/></g>
<g transform="translate(634.20 371.10) scale(0.7750 0.7894)"><path d="M8.48,0.13 8.18,0.37 7.89,0.59 7.60,0.80 7.30,1.00 6.99,1.21 6.68,1.44 6.36,1.68 6.04,1.94 5.71,2.24 5.39,2.57 5.06,2.95 4.74,3.36 4.42,3.80 4.10,4.28 3.77,4.80 3.44,5.34 3.12,5.91 2.79,6.49 2.48,7.09 2.17,7.71 1.89,8.33 1.62,8.96 1.37,9.58 1.15,10.20 0.96,10.81 0.79,11.43 0.63,12.05 0.50,12.68 0.38,13.31 0.28,13.94 0.19,14.57 0.12,15.21 0.07,15.84 0.03,16.47 0.01,17.10 0.00,17.73 0.01,18.36 0.03,18.99 0.07,19.63 0.12,20.27 0.19,20.91 0.28,21.55 0.38,22.18 0.50,22.82 0.63,23.44 0.79,24.06 0.96,24.67 1.16,25.27 1.38,25.87 1.63,26.47 1.90,27.05 2.19,27.63 2.49,28.19 2.81,28.74 3.13,29.27 3.46,29.79 3.79,30.28 4.11,30.75 4.43,31.20 4.74,31.63 5.05,32.04 5.37,32.42 5.69,32.77 6.01,33.10 6.32,33.40 6.64,33.69 6.95,33.96 7.25,34.23 7.56,34.49 7.86,34.75 8.15,35.02 8.45,35.31 8.60,35.42 8.78,35.47 8.97,35.44 9.13,35.35 9.24,35.20 9.29,35.02 9.26,34.83 9.17,34.67 8.91,34.33 8.64,34.00 8.38,33.69 8.12,33.38 7.86,33.07 7.61,32.76 7.36,32.45 7.12,32.13 6.88,31.80 6.64,31.45 6.41,31.09 6.18,30.69 5.94,30.25 5.68,29.79 5.42,29.30 5.16,28.80 4.90,28.29 4.65,27.76 4.41,27.23 4.18,26.69 3.96,26.15 3.77,25.62 3.59,25.09 3.44,24.57 3.31,24.04 3.19,23.49 3.09,22.94 2.99,22.37 2.92,21.80 2.85,21.22 2.80,20.64 2.75,20.06 2.72,19.47 2.70,18.89 2.68,18.31 2.68,17.73 2.68,17.16 2.70,16.58 2.72,16.00 2.75,15.42 2.80,14.85 2.85,14.27 2.92,13.70 2.99,13.12 3.09,12.56 3.19,11.99 3.31,11.43 3.45,10.88 3.60,10.33 3.78,9.75 3.98,9.17 4.19,8.58 4.43,7.98 4.67,7.40 4.92,6.82 5.18,6.26 5.44,5.72 5.69,5.21 5.94,4.74 6.18,4.30 6.40,3.92 6.63,3.58 6.85,3.27 7.08,2.98 7.32,2.71 7.57,2.45 7.82,2.20 8.07,1.94 8.34,1.68 8.61,1.41 8.88,1.12 9.14,0.83 9.25,0.67 9.29,0.49 9.26,0.31 9.16,0.15 9.00,0.04 8.82,0.00 8.64,0.03Z"/></g>
<g transform="translate(644.50 379.14) scale(0.8124)"><path d="M1.03,6.54 1.14,6.34 1.25,6.14 1.36,5.94 1.46,5.74 1.56,5.54 1.66,5.35 1.77,5.16 1.87,4.98 1.98,4.80 2.09,4.63 2.21,4.47 2.34,4.31 2.48,4.15 2.63,3.98 2.79,3.81 2.95,3.64 3.12,3.48 3.29,3.33 3.46,3.18 3.63,3.04 3.79,2.92 3.95,2.81 4.09,2.72 4.23,2.65 4.36,2.58 4.49,2.53 4.62,2.49 4.74,2.46 4.85,2.43 4.96,2.42 5.07,2.41 5.17,2.41 5.26,2.42 5.35,2.44 5.44,2.46 5.52,2.49 5.61,2.52 5.70,2.57 5.81,2.62 5.92,2.69 6.03,2.76 6.14,2.84 6.24,2.92 6.32,3.00 6.39,3.07 6.44,3.14 6.45,3.18 6.44,3.21 6.43,3.23 6.42,3.24 6.41,3.26 6.39,3.28 6.38,3.31 6.38,3.36 6.37,3.43 6.36,3.52 6.35,3.63 6.33,3.77 6.32,3.93 6.30,4.10 6.27,4.26 6.24,4.44 6.20,4.64 6.15,4.87 6.09,5.11 6.02,5.36 5.96,5.63 5.88,5.90 5.81,6.19 5.73,6.48 5.66,6.77 5.59,7.06 5.52,7.34 5.44,7.63 5.35,7.94 5.26,8.27 5.16,8.61 5.06,8.95 4.96,9.30 4.87,9.65 4.78,10.00 4.70,10.34 4.63,10.68 4.57,11.01 4.53,11.30 4.50,11.58 4.48,11.85 4.46,12.11 4.45,12.37 4.45,12.62 4.46,12.87 4.48,13.12 4.51,13.36 4.55,13.60 4.60,13.84 4.66,14.07 4.73,14.29 4.82,14.51 4.91,14.72 5.01,14.93 5.13,15.14 5.26,15.34 5.41,15.54 5.57,15.72 5.74,15.90 5.92,16.06 6.12,16.21 6.32,16.35 6.54,16.47 6.76,16.58 6.98,16.68 7.21,16.76 7.45,16.84 7.69,16.90 7.94,16.96 8.19,17.00 8.44,17.03 8.69,17.05 8.95,17.06 9.20,17.05 9.45,17.03 9.69,17.00 9.94,16.95 10.18,16.89 10.43,16.83 10.67,16.75 10.91,16.67 11.14,16.57 11.38,16.47 11.61,16.36 11.83,16.24 12.06,16.12 12.27,15.99 12.48,15.85 12.69,15.71 12.90,15.55 13.10,15.39 13.31,15.22 13.51,15.04 13.71,14.85 13.90,14.66 14.10,14.45 14.29,14.23 14.48,14.00 14.66,13.77 14.85,13.52 15.03,13.26 15.21,13.00 15.39,12.72 15.57,12.44 15.74,12.14 15.91,11.84 16.08,11.53 16.24,11.21 16.40,10.89 16.56,10.56 16.71,10.22 16.85,9.86 16.99,9.50 17.13,9.12 17.26,8.75 17.39,8.37 17.51,7.98 17.63,7.60 17.75,7.22 17.86,6.84 17.97,6.47 18.08,6.10 18.19,5.72 18.29,5.35 18.39,4.98 18.48,4.60 18.57,4.23 18.66,3.86 18.74,3.50 18.82,3.13 18.91,2.77 18.99,2.41 19.08,2.05 19.16,1.69 19.17,1.27 19.02,0.89 18.74,0.59 18.36,0.43 17.95,0.42 17.56,0.57 17.27,0.86 17.10,1.23 17.03,1.60 16.96,1.97 16.89,2.35 16.82,2.71 16.75,3.08 16.68,3.44 16.61,3.81 16.54,4.17 16.46,4.53 16.39,4.89 16.31,5.24 16.22,5.60 16.13,5.97 16.04,6.35 15.95,6.72 15.86,7.10 15.76,7.48 15.66,7.85 15.56,8.22 15.46,8.58 15.35,8.93 15.24,9.26 15.13,9.59 15.01,9.90 14.88,10.20 14.75,10.50 14.62,10.79 14.47,11.07 14.33,11.35 14.18,11.62 14.03,11.88 13.88,12.13 13.72,12.37 13.56,12.61 13.41,12.83 13.25,13.04 13.09,13.23 12.94,13.42 12.78,13.59 12.62,13.76 12.46,13.91 12.30,14.06 12.13,14.20 11.97,14.33 11.80,14.45 11.63,14.56 11.46,14.66 11.29,14.76 11.12,14.85 10.94,14.93 10.76,15.00 10.58,15.06 10.39,15.12 10.21,15.16 10.03,15.20 9.85,15.23 9.67,15.25 9.51,15.26 9.35,15.26 9.20,15.25 9.06,15.23 8.92,15.20 8.77,15.16 8.62,15.11 8.47,15.05 8.33,14.98 8.19,14.91 8.06,14.83 7.95,14.75 7.85,14.67 7.76,14.60 7.70,14.53 7.66,14.46 7.62,14.39 7.60,14.33 7.58,14.26 7.56,14.18 7.54,14.11 7.53,14.02 7.52,13.93 7.52,13.84 7.51,13.73 7.50,13.62 7.50,13.51 7.50,13.39 7.51,13.28 7.52,13.17 7.53,13.04 7.55,12.91 7.57,12.77 7.60,12.62 7.63,12.45 7.67,12.27 7.71,12.08 7.76,11.87 7.81,11.65 7.87,11.43 7.94,11.18 8.03,10.91 8.13,10.61 8.23,10.30 8.34,9.97 8.46,9.63 8.57,9.29 8.68,8.94 8.79,8.60 8.89,8.25 8.98,7.92 9.05,7.61 9.12,7.31 9.19,7.01 9.26,6.70 9.32,6.39 9.38,6.09 9.44,5.78 9.49,5.48 9.53,5.18 9.56,4.88 9.58,4.58 9.59,4.30 9.59,4.05 9.58,3.81 9.57,3.57 9.54,3.33 9.50,3.08 9.45,2.83 9.38,2.58 9.29,2.32 9.17,2.07 9.03,1.83 8.87,1.60 8.68,1.37 8.46,1.16 8.23,0.98 7.99,0.83 7.75,0.70 7.50,0.59 7.26,0.49 7.01,0.41 6.76,0.34 6.51,0.29 6.26,0.25 6.01,0.22 5.76,0.21 5.52,0.22 5.29,0.24 5.06,0.27 4.84,0.32 4.62,0.38 4.40,0.46 4.19,0.55 3.99,0.65 3.79,0.76 3.59,0.88 3.40,1.01 3.22,1.15 3.03,1.31 2.84,1.49 2.66,1.67 2.49,1.87 2.32,2.07 2.15,2.28 1.99,2.49 1.83,2.70 1.68,2.92 1.54,3.13 1.40,3.34 1.27,3.55 1.14,3.76 1.01,3.97 0.90,4.19 0.79,4.40 0.69,4.62 0.60,4.83 0.51,5.04 0.42,5.24 0.33,5.44 0.24,5.64 0.15,5.84 0.06,6.04 0.00,6.24 0.02,6.45 0.13,6.64 0.29,6.77 0.50,6.83 0.71,6.81 0.89,6.71Z"/><path d="M17.00,1.19 16.92,1.66 16.84,2.13 16.76,2.60 16.68,3.07 16.59,3.54 16.51,4.01 16.43,4.48 16.35,4.94 16.27,5.40 16.20,5.85 16.13,6.29 16.06,6.72 15.99,7.16 15.92,7.59 15.85,8.03 15.78,8.47 15.71,8.91 15.64,9.35 15.58,9.77 15.52,10.18 15.46,10.58 15.42,10.97 15.38,11.33 15.34,11.67 15.32,11.97 15.31,12.24 15.29,12.50 15.29,12.74 15.28,12.97 15.29,13.20 15.30,13.43 15.31,13.65 15.34,13.88 15.38,14.10 15.42,14.33 15.48,14.55 15.55,14.77 15.63,14.97 15.73,15.17 15.84,15.36 15.96,15.55 16.09,15.73 16.25,15.90 16.43,16.06 16.63,16.21 16.85,16.34 17.10,16.43 17.35,16.48 17.56,16.50 17.75,16.49 17.95,16.47 18.16,16.43 18.37,16.38 18.58,16.30 18.79,16.20 18.99,16.08 19.19,15.94 19.39,15.78 19.58,15.59 19.77,15.38 19.95,15.14 20.12,14.88 20.30,14.60 20.47,14.30 20.64,13.98 20.82,13.66 20.99,13.32 21.17,12.99 21.34,12.66 21.51,12.33 21.67,12.02 21.84,11.72 21.91,11.52 21.90,11.31 21.81,11.12 21.65,10.97 21.46,10.90 21.24,10.91 21.05,11.00 20.91,11.16 20.71,11.45 20.51,11.76 20.31,12.08 20.12,12.39 19.92,12.71 19.73,13.02 19.53,13.32 19.35,13.60 19.17,13.85 19.00,14.07 18.84,14.26 18.70,14.40 18.57,14.50 18.45,14.59 18.33,14.65 18.23,14.69 18.14,14.71 18.07,14.72 18.00,14.72 17.94,14.71 17.89,14.69 17.85,14.67 17.82,14.64 17.82,14.62 17.87,14.60 17.93,14.60 17.99,14.60 18.03,14.60 18.06,14.58 18.08,14.55 18.10,14.50 18.11,14.45 18.13,14.38 18.14,14.30 18.15,14.21 18.16,14.12 18.18,14.04 18.20,13.95 18.23,13.86 18.26,13.75 18.30,13.62 18.33,13.47 18.38,13.30 18.42,13.10 18.47,12.88 18.52,12.64 18.57,12.36 18.62,12.07 18.67,11.76 18.72,11.43 18.78,11.07 18.84,10.68 18.91,10.27 18.97,9.85 19.04,9.42 19.10,8.97 19.17,8.52 19.22,8.06 19.28,7.61 19.33,7.15 19.37,6.70 19.41,6.24 19.45,5.78 19.48,5.31 19.51,4.84 19.54,4.36 19.56,3.88 19.59,3.40 19.62,2.93 19.64,2.45 19.67,1.98 19.70,1.51 19.66,0.98 19.42,0.51 19.01,0.16 18.51,0.00 17.98,0.04 17.51,0.28 17.17,0.69Z"/></g>
<g transform="translate(665.50 371.10) scale(0.8181 0.7894)"><path d="M0.15,0.83 0.41,1.12 0.68,1.41 0.95,1.68 1.22,1.94 1.47,2.20 1.72,2.45 1.97,2.71 2.21,2.98 2.44,3.27 2.66,3.58 2.89,3.92 3.11,4.30 3.35,4.74 3.60,5.21 3.85,5.72 4.11,6.26 4.37,6.82 4.62,7.40 4.86,7.98 5.10,8.58 5.31,9.17 5.51,9.75 5.69,10.33 5.84,10.88 5.98,11.43 6.10,11.99 6.20,12.56 6.30,13.12 6.37,13.70 6.44,14.27 6.49,14.85 6.54,15.42 6.57,16.00 6.59,16.58 6.61,17.16 6.61,17.73 6.61,18.31 6.59,18.89 6.57,19.47 6.54,20.06 6.49,20.64 6.44,21.22 6.37,21.80 6.30,22.37 6.20,22.94 6.10,23.49 5.98,24.04 5.85,24.57 5.70,25.09 5.52,25.62 5.33,26.15 5.11,26.69 4.88,27.23 4.64,27.76 4.39,28.29 4.13,28.80 3.87,29.30 3.61,29.79 3.35,30.25 3.11,30.69 2.88,31.09 2.65,31.45 2.41,31.80 2.17,32.13 1.93,32.45 1.68,32.76 1.43,33.07 1.17,33.38 0.91,33.69 0.65,34.00 0.38,34.33 0.12,34.67 0.03,34.83 0.00,35.02 0.05,35.20 0.16,35.35 0.32,35.44 0.51,35.47 0.69,35.42 0.84,35.31 1.14,35.02 1.43,34.75 1.73,34.49 2.04,34.23 2.34,33.96 2.65,33.69 2.97,33.40 3.28,33.10 3.60,32.77 3.92,32.42 4.24,32.04 4.55,31.63 4.86,31.20 5.18,30.75 5.50,30.28 5.83,29.79 6.16,29.27 6.48,28.74 6.80,28.19 7.10,27.63 7.39,27.05 7.66,26.47 7.91,25.87 8.13,25.27 8.33,24.67 8.50,24.06 8.66,23.44 8.79,22.82 8.91,22.18 9.01,21.55 9.10,20.91 9.17,20.27 9.22,19.63 9.26,18.99 9.28,18.36 9.29,17.73 9.28,17.10 9.26,16.47 9.22,15.84 9.17,15.21 9.10,14.57 9.01,13.94 8.91,13.31 8.79,12.68 8.66,12.05 8.50,11.43 8.33,10.81 8.14,10.20 7.92,9.58 7.67,8.96 7.40,8.33 7.12,7.71 6.81,7.09 6.50,6.49 6.17,5.91 5.85,5.34 5.52,4.80 5.19,4.28 4.87,3.80 4.55,3.36 4.23,2.95 3.90,2.57 3.57,2.24 3.25,1.94 2.93,1.68 2.61,1.44 2.30,1.21 1.99,1.00 1.69,0.80 1.40,0.59 1.11,0.37 0.81,0.13 0.65,0.03 0.47,0.00 0.29,0.04 0.13,0.15 0.03,0.31 0.00,0.49 0.04,0.67Z"/></g>
<g transform="translate(633.00 405.80) scale(0.8503 0.8521)"><path d="M1.79,5.90 1.91,5.62 2.03,5.31 2.13,5.02 2.22,4.74 2.30,4.47 2.39,4.22 2.47,3.98 2.56,3.77 2.67,3.57 2.79,3.39 2.92,3.23 3.09,3.08 3.31,2.93 3.57,2.76 3.87,2.60 4.19,2.44 4.53,2.29 4.88,2.16 5.25,2.04 5.61,1.94 5.98,1.85 6.33,1.79 6.66,1.76 6.97,1.74 7.28,1.75 7.60,1.78 7.93,1.82 8.25,1.88 8.57,1.96 8.89,2.05 9.18,2.16 9.47,2.29 9.73,2.42 9.96,2.57 10.17,2.73 10.36,2.89 10.53,3.08 10.70,3.30 10.88,3.55 11.05,3.83 11.21,4.13 11.36,4.44 11.50,4.76 11.61,5.08 11.72,5.40 11.80,5.70 11.85,5.99 11.89,6.25 11.91,6.51 11.92,6.77 11.91,7.05 11.89,7.34 11.85,7.63 11.79,7.94 11.72,8.25 11.63,8.56 11.53,8.88 11.41,9.19 11.28,9.51 11.14,9.81 10.99,10.11 10.81,10.41 10.60,10.72 10.37,11.04 10.12,11.37 9.85,11.70 9.57,12.03 9.27,12.36 8.97,12.69 8.66,13.02 8.36,13.34 8.06,13.65 7.76,13.95 7.46,14.23 7.15,14.51 6.83,14.78 6.51,15.06 6.17,15.33 5.83,15.60 5.49,15.87 5.15,16.14 4.80,16.40 4.46,16.67 4.13,16.93 3.81,17.18 3.50,17.42 3.20,17.66 2.89,17.89 2.58,18.13 2.28,18.35 1.97,18.58 1.66,18.81 1.35,19.04 1.04,19.27 0.73,19.50 0.42,19.74 0.14,20.02 0.00,20.38 0.01,20.77 0.16,21.13 0.44,21.40 0.80,21.55 1.19,21.54 1.55,21.39 1.88,21.18 2.20,20.98 2.53,20.78 2.86,20.58 3.18,20.38 3.51,20.18 3.85,19.97 4.18,19.76 4.52,19.55 4.86,19.33 5.21,19.10 5.55,18.86 5.90,18.63 6.25,18.39 6.61,18.14 6.97,17.89 7.34,17.64 7.72,17.37 8.09,17.10 8.47,16.82 8.84,16.53 9.21,16.23 9.58,15.91 9.93,15.60 10.27,15.28 10.61,14.95 10.95,14.62 11.30,14.27 11.64,13.91 11.98,13.55 12.31,13.17 12.63,12.78 12.94,12.39 13.22,11.98 13.49,11.56 13.72,11.13 13.93,10.72 14.12,10.30 14.29,9.87 14.44,9.44 14.57,8.99 14.68,8.55 14.76,8.10 14.82,7.64 14.85,7.18 14.85,6.72 14.82,6.25 14.75,5.79 14.65,5.34 14.51,4.88 14.34,4.44 14.14,4.00 13.91,3.58 13.67,3.16 13.40,2.76 13.11,2.38 12.81,2.02 12.49,1.68 12.15,1.38 11.79,1.10 11.41,0.85 11.02,0.65 10.61,0.48 10.20,0.33 9.78,0.22 9.36,0.13 8.93,0.07 8.51,0.03 8.09,0.00 7.67,0.00 7.26,0.01 6.86,0.05 6.45,0.10 6.02,0.18 5.60,0.29 5.18,0.41 4.75,0.56 4.34,0.72 3.93,0.89 3.54,1.07 3.16,1.27 2.80,1.47 2.47,1.68 2.16,1.91 1.87,2.16 1.61,2.43 1.39,2.72 1.20,3.01 1.03,3.31 0.89,3.60 0.76,3.88 0.64,4.15 0.53,4.40 0.42,4.64 0.31,4.86 0.18,5.09 0.09,5.43 0.13,5.78 0.30,6.08 0.58,6.30 0.92,6.39 1.27,6.35 1.57,6.18Z"/><path d="M0.52,19.19 13.12,19.19 13.92,16.09 15.52,16.09 15.02,21.59 0.52,21.59Z"/><circle cx="2.02" cy="6.19" r="2.0"/></g>
<g transform="translate(689.80 389.60) scale(0.9928 0.9890)"><path d="M0.00,13.00 27.60,13.00 27.60,14.60 0.00,14.60Z"/><path d="M12.90,0.00 14.50,0.00 14.50,27.20 12.90,27.20Z"/></g>
<g transform="translate(729.10 387.07) scale(0.9800)"><path d="M5.36,15.37 5.53,15.09 5.69,14.79 5.85,14.49 6.00,14.19 6.15,13.90 6.31,13.61 6.46,13.33 6.61,13.07 6.77,12.82 6.94,12.59 7.11,12.38 7.29,12.18 7.50,11.99 7.73,11.80 7.97,11.60 8.22,11.41 8.48,11.23 8.75,11.07 9.01,10.92 9.27,10.78 9.51,10.67 9.74,10.58 9.94,10.51 10.11,10.48 10.25,10.46 10.39,10.46 10.53,10.47 10.65,10.49 10.77,10.52 10.88,10.56 10.98,10.61 11.07,10.67 11.15,10.73 11.21,10.79 11.27,10.85 11.31,10.92 11.36,11.00 11.40,11.09 11.45,11.20 11.49,11.32 11.53,11.45 11.57,11.60 11.60,11.77 11.62,11.95 11.65,12.15 11.66,12.37 11.67,12.60 11.67,12.86 11.66,13.13 11.64,13.42 11.61,13.74 11.57,14.07 11.52,14.42 11.46,14.79 11.39,15.19 11.31,15.61 11.22,16.06 11.12,16.53 11.01,17.02 10.89,17.54 10.76,18.10 10.61,18.71 10.44,19.37 10.26,20.06 10.07,20.77 9.87,21.49 9.66,22.21 9.46,22.93 9.27,23.62 9.08,24.28 8.90,24.89 8.73,25.46 8.58,25.99 8.43,26.49 8.30,26.96 8.17,27.41 8.05,27.84 7.93,28.23 7.81,28.61 7.69,28.97 7.58,29.30 7.46,29.62 7.33,29.92 7.20,30.20 7.06,30.47 6.92,30.72 6.77,30.96 6.62,31.18 6.47,31.40 6.31,31.60 6.14,31.79 5.98,31.97 5.81,32.13 5.65,32.29 5.48,32.44 5.33,32.57 5.19,32.68 5.05,32.77 4.91,32.86 4.76,32.94 4.62,33.01 4.47,33.07 4.32,33.12 4.17,33.15 4.02,33.18 3.88,33.20 3.74,33.20 3.62,33.20 3.53,33.19 3.45,33.17 3.35,33.13 3.24,33.06 3.12,32.98 2.99,32.88 2.86,32.76 2.72,32.63 2.57,32.50 2.41,32.35 2.23,32.21 2.07,32.09 1.81,31.97 1.53,31.95 1.26,32.04 1.04,32.22 0.92,32.48 0.90,32.76 0.99,33.03 1.17,33.25 1.31,33.36 1.43,33.47 1.56,33.59 1.70,33.72 1.84,33.86 2.00,34.01 2.17,34.16 2.35,34.31 2.55,34.45 2.77,34.58 3.02,34.69 3.28,34.78 3.53,34.83 3.77,34.88 4.01,34.91 4.27,34.92 4.53,34.93 4.80,34.91 5.07,34.88 5.35,34.83 5.63,34.76 5.91,34.67 6.20,34.56 6.47,34.43 6.73,34.29 6.99,34.14 7.26,33.97 7.53,33.79 7.79,33.58 8.06,33.36 8.33,33.12 8.60,32.86 8.86,32.57 9.11,32.27 9.36,31.95 9.60,31.60 9.83,31.24 10.04,30.88 10.24,30.50 10.44,30.11 10.63,29.71 10.81,29.30 10.99,28.87 11.16,28.42 11.34,27.96 11.51,27.48 11.69,26.97 11.87,26.44 12.06,25.86 12.26,25.23 12.46,24.55 12.67,23.85 12.88,23.12 13.08,22.38 13.28,21.64 13.47,20.90 13.66,20.19 13.82,19.50 13.97,18.85 14.11,18.26 14.22,17.71 14.32,17.18 14.42,16.67 14.50,16.18 14.58,15.71 14.64,15.25 14.69,14.81 14.73,14.37 14.75,13.95 14.76,13.54 14.76,13.14 14.73,12.74 14.69,12.35 14.64,11.98 14.56,11.62 14.46,11.27 14.35,10.94 14.22,10.62 14.07,10.32 13.91,10.04 13.73,9.77 13.53,9.52 13.32,9.29 13.09,9.08 12.84,8.88 12.56,8.71 12.28,8.57 11.99,8.46 11.69,8.37 11.38,8.31 11.07,8.28 10.75,8.27 10.43,8.29 10.12,8.34 9.80,8.42 9.49,8.52 9.19,8.66 8.89,8.82 8.59,9.00 8.30,9.20 8.01,9.42 7.72,9.65 7.44,9.90 7.16,10.15 6.90,10.41 6.65,10.68 6.41,10.96 6.19,11.24 5.98,11.53 5.79,11.83 5.62,12.14 5.46,12.46 5.32,12.77 5.19,13.09 5.07,13.40 4.94,13.71 4.83,14.02 4.71,14.32 4.59,14.62 4.46,14.91 4.40,15.10 4.42,15.30 4.52,15.47 4.68,15.59 4.87,15.65 5.07,15.63 5.24,15.53Z"/><circle cx="1.90" cy="32.10" r="1.9"/><circle cx="13.80" cy="2.00" r="2.0"/></g>
<g transform="translate(751.70 370.80) scale(0.8073 0.8007)"><path d="M8.48,0.13 8.18,0.37 7.89,0.59 7.60,0.80 7.30,1.00 6.99,1.21 6.68,1.44 6.36,1.68 6.04,1.94 5.71,2.24 5.39,2.57 5.06,2.95 4.74,3.36 4.42,3.80 4.10,4.28 3.77,4.80 3.44,5.34 3.12,5.91 2.79,6.49 2.48,7.09 2.17,7.71 1.89,8.33 1.62,8.96 1.37,9.58 1.15,10.20 0.96,10.81 0.79,11.43 0.63,12.05 0.50,12.68 0.38,13.31 0.28,13.94 0.19,14.57 0.12,15.21 0.07,15.84 0.03,16.47 0.01,17.10 0.00,17.73 0.01,18.36 0.03,18.99 0.07,19.63 0.12,20.27 0.19,20.91 0.28,21.55 0.38,22.18 0.50,22.82 0.63,23.44 0.79,24.06 0.96,24.67 1.16,25.27 1.38,25.87 1.63,26.47 1.90,27.05 2.19,27.63 2.49,28.19 2.81,28.74 3.13,29.27 3.46,29.79 3.79,30.28 4.11,30.75 4.43,31.20 4.74,31.63 5.05,32.04 5.37,32.42 5.69,32.77 6.01,33.10 6.32,33.40 6.64,33.69 6.95,33.96 7.25,34.23 7.56,34.49 7.86,34.75 8.15,35.02 8.45,35.31 8.60,35.42 8.78,35.47 8.97,35.44 9.13,35.35 9.24,35.20 9.29,35.02 9.26,34.83 9.17,34.67 8.91,34.33 8.64,34.00 8.38,33.69 8.12,33.38 7.86,33.07 7.61,32.76 7.36,32.45 7.12,32.13 6.88,31.80 6.64,31.45 6.41,31.09 6.18,30.69 5.94,30.25 5.68,29.79 5.42,29.30 5.16,28.80 4.90,28.29 4.65,27.76 4.41,27.23 4.18,26.69 3.96,26.15 3.77,25.62 3.59,25.09 3.44,24.57 3.31,24.04 3.19,23.49 3.09,22.94 2.99,22.37 2.92,21.80 2.85,21.22 2.80,20.64 2.75,20.06 2.72,19.47 2.70,18.89 2.68,18.31 2.68,17.73 2.68,17.16 2.70,16.58 2.72,16.00 2.75,15.42 2.80,14.85 2.85,14.27 2.92,13.70 2.99,13.12 3.09,12.56 3.19,11.99 3.31,11.43 3.45,10.88 3.60,10.33 3.78,9.75 3.98,9.17 4.19,8.58 4.43,7.98 4.67,7.40 4.92,6.82 5.18,6.26 5.44,5.72 5.69,5.21 5.94,4.74 6.18,4.30 6.40,3.92 6.63,3.58 6.85,3.27 7.08,2.98 7.32,2.71 7.57,2.45 7.82,2.20 8.07,1.94 8.34,1.68 8.61,1.41 8.88,1.12 9.14,0.83 9.25,0.67 9.29,0.49 9.26,0.31 9.16,0.15 9.00,0.04 8.82,0.00 8.64,0.03Z"/></g>
<g transform="translate(761.70 378.05) scale(0.8352)"><path d="M1.03,6.54 1.14,6.34 1.25,6.14 1.36,5.94 1.46,5.74 1.56,5.54 1.66,5.35 1.77,5.16 1.87,4.98 1.98,4.80 2.09,4.63 2.21,4.47 2.34,4.31 2.48,4.15 2.63,3.98 2.79,3.81 2.95,3.64 3.12,3.48 3.29,3.33 3.46,3.18 3.63,3.04 3.79,2.92 3.95,2.81 4.09,2.72 4.23,2.65 4.36,2.58 4.49,2.53 4.62,2.49 4.74,2.46 4.85,2.43 4.96,2.42 5.07,2.41 5.17,2.41 5.26,2.42 5.35,2.44 5.44,2.46 5.52,2.49 5.61,2.52 5.70,2.57 5.81,2.62 5.92,2.69 6.03,2.76 6.14,2.84 6.24,2.92 6.32,3.00 6.39,3.07 6.44,3.14 6.45,3.18 6.44,3.21 6.43,3.23 6.42,3.24 6.41,3.26 6.39,3.28 6.38,3.31 6.38,3.36 6.37,3.43 6.36,3.52 6.35,3.63 6.33,3.77 6.32,3.93 6.30,4.10 6.27,4.26 6.24,4.44 6.20,4.64 6.15,4.87 6.09,5.11 6.02,5.36 5.96,5.63 5.88,5.90 5.81,6.19 5.73,6.48 5.66,6.77 5.59,7.06 5.52,7.34 5.44,7.63 5.35,7.94 5.26,8.27 5.16,8.61 5.06,8.95 4.96,9.30 4.87,9.65 4.78,10.00 4.70,10.34 4.63,10.68 4.57,11.01 4.53,11.30 4.50,11.58 4.48,11.85 4.46,12.11 4.45,12.37 4.45,12.62 4.46,12.87 4.48,13.12 4.51,13.36 4.55,13.60 4.60,13.84 4.66,14.07 4.73,14.29 4.82,14.51 4.91,14.72 5.01,14.93 5.13,15.14 5.26,15.34 5.41,15.54 5.57,15.72 5.74,15.90 5.92,16.06 6.12,16.21 6.32,16.35 6.54,16.47 6.76,16.58 6.98,16.68 7.21,16.76 7.45,16.84 7.69,16.90 7.94,16.96 8.19,17.00 8.44,17.03 8.69,17.05 8.95,17.06 9.20,17.05 9.45,17.03 9.69,17.00 9.94,16.95 10.18,16.89 10.43,16.83 10.67,16.75 10.91,16.67 11.14,16.57 11.38,16.47 11.61,16.36 11.83,16.24 12.06,16.12 12.27,15.99 12.48,15.85 12.69,15.71 12.90,15.55 13.10,15.39 13.31,15.22 13.51,15.04 13.71,14.85 13.90,14.66 14.10,14.45 14.29,14.23 14.48,14.00 14.66,13.77 14.85,13.52 15.03,13.26 15.21,13.00 15.39,12.72 15.57,12.44 15.74,12.14 15.91,11.84 16.08,11.53 16.24,11.21 16.40,10.89 16.56,10.56 16.71,10.22 16.85,9.86 16.99,9.50 17.13,9.12 17.26,8.75 17.39,8.37 17.51,7.98 17.63,7.60 17.75,7.22 17.86,6.84 17.97,6.47 18.08,6.10 18.19,5.72 18.29,5.35 18.39,4.98 18.48,4.60 18.57,4.23 18.66,3.86 18.74,3.50 18.82,3.13 18.91,2.77 18.99,2.41 19.08,2.05 19.16,1.69 19.17,1.27 19.02,0.89 18.74,0.59 18.36,0.43 17.95,0.42 17.56,0.57 17.27,0.86 17.10,1.23 17.03,1.60 16.96,1.97 16.89,2.35 16.82,2.71 16.75,3.08 16.68,3.44 16.61,3.81 16.54,4.17 16.46,4.53 16.39,4.89 16.31,5.24 16.22,5.60 16.13,5.97 16.04,6.35 15.95,6.72 15.86,7.10 15.76,7.48 15.66,7.85 15.56,8.22 15.46,8.58 15.35,8.93 15.24,9.26 15.13,9.59 15.01,9.90 14.88,10.20 14.75,10.50 14.62,10.79 14.47,11.07 14.33,11.35 14.18,11.62 14.03,11.88 13.88,12.13 13.72,12.37 13.56,12.61 13.41,12.83 13.25,13.04 13.09,13.23 12.94,13.42 12.78,13.59 12.62,13.76 12.46,13.91 12.30,14.06 12.13,14.20 11.97,14.33 11.80,14.45 11.63,14.56 11.46,14.66 11.29,14.76 11.12,14.85 10.94,14.93 10.76,15.00 10.58,15.06 10.39,15.12 10.21,15.16 10.03,15.20 9.85,15.23 9.67,15.25 9.51,15.26 9.35,15.26 9.20,15.25 9.06,15.23 8.92,15.20 8.77,15.16 8.62,15.11 8.47,15.05 8.33,14.98 8.19,14.91 8.06,14.83 7.95,14.75 7.85,14.67 7.76,14.60 7.70,14.53 7.66,14.46 7.62,14.39 7.60,14.33 7.58,14.26 7.56,14.18 7.54,14.11 7.53,14.02 7.52,13.93 7.52,13.84 7.51,13.73 7.50,13.62 7.50,13.51 7.50,13.39 7.51,13.28 7.52,13.17 7.53,13.04 7.55,12.91 7.57,12.77 7.60,12.62 7.63,12.45 7.67,12.27 7.71,12.08 7.76,11.87 7.81,11.65 7.87,11.43 7.94,11.18 8.03,10.91 8.13,10.61 8.23,10.30 8.34,9.97 8.46,9.63 8.57,9.29 8.68,8.94 8.79,8.60 8.89,8.25 8.98,7.92 9.05,7.61 9.12,7.31 9.19,7.01 9.26,6.70 9.32,6.39 9.38,6.09 9.44,5.78 9.49,5.48 9.53,5.18 9.56,4.88 9.58,4.58 9.59,4.30 9.59,4.05 9.58,3.81 9.57,3.57 9.54,3.33 9.50,3.08 9.45,2.83 9.38,2.58 9.29,2.32 9.17,2.07 9.03,1.83 8.87,1.60 8.68,1.37 8.46,1.16 8.23,0.98 7.99,0.83 7.75,0.70 7.50,0.59 7.26,0.49 7.01,0.41 6.76,0.34 6.51,0.29 6.26,0.25 6.01,0.22 5.76,0.21 5.52,0.22 5.29,0.24 5.06,0.27 4.84,0.32 4.62,0.38 4.40,0.46 4.19,0.55 3.99,0.65 3.79,0.76 3.59,0.88 3.40,1.01 3.22,1.15 3.03,1.31 2.84,1.49 2.66,1.67 2.49,1.87 2.32,2.07 2.15,2.28 1.99,2.49 1.83,2.70 1.68,2.92 1.54,3.13 1.40,3.34 1.27,3.55 1.14,3.76 1.01,3.97 0.90,4.19 0.79,4.40 0.69,4.62 0.60,4.83 0.51,5.04 0.42,5.24 0.33,5.44 0.24,5.64 0.15,5.84 0.06,6.04 0.00,6.24 0.02,6.45 0.13,6.64 0.29,6.77 0.50,6.83 0.71,6.81 0.89,6.71Z"/><path d="M17.00,1.19 16.92,1.66 16.84,2.13 16.76,2.60 16.68,3.07 16.59,3.54 16.51,4.01 16.43,4.48 16.35,4.94 16.27,5.40 16.20,5.85 16.13,6.29 16.06,6.72 15.99,7.16 15.92,7.59 15.85,8.03 15.78,8.47 15.71,8.91 15.64,9.35 15.58,9.77 15.52,10.18 15.46,10.58 15.42,10.97 15.38,11.33 15.34,11.67 15.32,11.97 15.31,12.24 15.29,12.50 15.29,12.74 15.28,12.97 15.29,13.20 15.30,13.43 15.31,13.65 15.34,13.88 15.38,14.10 15.42,14.33 15.48,14.55 15.55,14.77 15.63,14.97 15.73,15.17 15.84,15.36 15.96,15.55 16.09,15.73 16.25,15.90 16.43,16.06 16.63,16.21 16.85,16.34 17.10,16.43 17.35,16.48 17.56,16.50 17.75,16.49 17.95,16.47 18.16,16.43 18.37,16.38 18.58,16.30 18.79,16.20 18.99,16.08 19.19,15.94 19.39,15.78 19.58,15.59 19.77,15.38 19.95,15.14 20.12,14.88 20.30,14.60 20.47,14.30 20.64,13.98 20.82,13.66 20.99,13.32 21.17,12.99 21.34,12.66 21.51,12.33 21.67,12.02 21.84,11.72 21.91,11.52 21.90,11.31 21.81,11.12 21.65,10.97 21.46,10.90 21.24,10.91 21.05,11.00 20.91,11.16 20.71,11.45 20.51,11.76 20.31,12.08 20.12,12.39 19.92,12.71 19.73,13.02 19.53,13.32 19.35,13.60 19.17,13.85 19.00,14.07 18.84,14.26 18.70,14.40 18.57,14.50 18.45,14.59 18.33,14.65 18.23,14.69 18.14,14.71 18.07,14.72 18.00,14.72 17.94,14.71 17.89,14.69 17.85,14.67 17.82,14.64 17.82,14.62 17.87,14.60 17.93,14.60 17.99,14.60 18.03,14.60 18.06,14.58 18.08,14.55 18.10,14.50 18.11,14.45 18.13,14.38 18.14,14.30 18.15,14.21 18.16,14.12 18.18,14.04 18.20,13.95 18.23,13.86 18.26,13.75 18.30,13.62 18.33,13.47 18.38,13.30 18.42,13.10 18.47,12.88 18.52,12.64 18.57,12.36 18.62,12.07 18.67,11.76 18.72,11.43 18.78,11.07 18.84,10.68 18.91,10.27 18.97,9.85 19.04,9.42 19.10,8.97 19.17,8.52 19.22,8.06 19.28,7.61 19.33,7.15 19.37,6.70 19.41,6.24 19.45,5.78 19.48,5.31 19.51,4.84 19.54,4.36 19.56,3.88 19.59,3.40 19.62,2.93 19.64,2.45 19.67,1.98 19.70,1.51 19.66,0.98 19.42,0.51 19.01,0.16 18.51,0.00 17.98,0.04 17.51,0.28 17.17,0.69Z"/></g>
<g transform="translate(782.50 370.80) scale(0.9688 0.8007)"><path d="M0.15,0.83 0.41,1.12 0.68,1.41 0.95,1.68 1.22,1.94 1.47,2.20 1.72,2.45 1.97,2.71 2.21,2.98 2.44,3.27 2.66,3.58 2.89,3.92 3.11,4.30 3.35,4.74 3.60,5.21 3.85,5.72 4.11,6.26 4.37,6.82 4.62,7.40 4.86,7.98 5.10,8.58 5.31,9.17 5.51,9.75 5.69,10.33 5.84,10.88 5.98,11.43 6.10,11.99 6.20,12.56 6.30,13.12 6.37,13.70 6.44,14.27 6.49,14.85 6.54,15.42 6.57,16.00 6.59,16.58 6.61,17.16 6.61,17.73 6.61,18.31 6.59,18.89 6.57,19.47 6.54,20.06 6.49,20.64 6.44,21.22 6.37,21.80 6.30,22.37 6.20,22.94 6.10,23.49 5.98,24.04 5.85,24.57 5.70,25.09 5.52,25.62 5.33,26.15 5.11,26.69 4.88,27.23 4.64,27.76 4.39,28.29 4.13,28.80 3.87,29.30 3.61,29.79 3.35,30.25 3.11,30.69 2.88,31.09 2.65,31.45 2.41,31.80 2.17,32.13 1.93,32.45 1.68,32.76 1.43,33.07 1.17,33.38 0.91,33.69 0.65,34.00 0.38,34.33 0.12,34.67 0.03,34.83 0.00,35.02 0.05,35.20 0.16,35.35 0.32,35.44 0.51,35.47 0.69,35.42 0.84,35.31 1.14,35.02 1.43,34.75 1.73,34.49 2.04,34.23 2.34,33.96 2.65,33.69 2.97,33.40 3.28,33.10 3.60,32.77 3.92,32.42 4.24,32.04 4.55,31.63 4.86,31.20 5.18,30.75 5.50,30.28 5.83,29.79 6.16,29.27 6.48,28.74 6.80,28.19 7.10,27.63 7.39,27.05 7.66,26.47 7.91,25.87 8.13,25.27 8.33,24.67 8.50,24.06 8.66,23.44 8.79,22.82 8.91,22.18 9.01,21.55 9.10,20.91 9.17,20.27 9.22,19.63 9.26,18.99 9.28,18.36 9.29,17.73 9.28,17.10 9.26,16.47 9.22,15.84 9.17,15.21 9.10,14.57 9.01,13.94 8.91,13.31 8.79,12.68 8.66,12.05 8.50,11.43 8.33,10.81 8.14,10.20 7.92,9.58 7.67,8.96 7.40,8.33 7.12,7.71 6.81,7.09 6.50,6.49 6.17,5.91 5.85,5.34 5.52,4.80 5.19,4.28 4.87,3.80 4.55,3.36 4.23,2.95 3.90,2.57 3.57,2.24 3.25,1.94 2.93,1.68 2.61,1.44 2.30,1.21 1.99,1.00 1.69,0.80 1.40,0.59 1.11,0.37 0.81,0.13 0.65,0.03 0.47,0.00 0.29,0.04 0.13,0.15 0.03,0.31 0.00,0.49 0.04,0.67Z"/></g>
<g transform="translate(747.40 405.80) scale(0.8310 0.8474)"><path d="M1.79,5.90 1.91,5.62 2.03,5.31 2.13,5.02 2.22,4.74 2.30,4.47 2.39,4.22 2.47,3.98 2.56,3.77 2.67,3.57 2.79,3.39 2.92,3.23 3.09,3.08 3.31,2.93 3.57,2.76 3.87,2.60 4.19,2.44 4.53,2.29 4.88,2.16 5.25,2.04 5.61,1.94 5.98,1.85 6.33,1.79 6.66,1.76 6.97,1.74 7.28,1.75 7.60,1.78 7.93,1.82 8.25,1.88 8.57,1.96 8.89,2.05 9.18,2.16 9.47,2.29 9.73,2.42 9.96,2.57 10.17,2.73 10.36,2.89 10.53,3.08 10.70,3.30 10.88,3.55 11.05,3.83 11.21,4.13 11.36,4.44 11.50,4.76 11.61,5.08 11.72,5.40 11.80,5.70 11.85,5.99 11.89,6.25 11.91,6.51 11.92,6.77 11.91,7.05 11.89,7.34 11.85,7.63 11.79,7.94 11.72,8.25 11.63,8.56 11.53,8.88 11.41,9.19 11.28,9.51 11.14,9.81 10.99,10.11 10.81,10.41 10.60,10.72 10.37,11.04 10.12,11.37 9.85,11.70 9.57,12.03 9.27,12.36 8.97,12.69 8.66,13.02 8.36,13.34 8.06,13.65 7.76,13.95 7.46,14.23 7.15,14.51 6.83,14.78 6.51,15.06 6.17,15.33 5.83,15.60 5.49,15.87 5.15,16.14 4.80,16.40 4.46,16.67 4.13,16.93 3.81,17.18 3.50,17.42 3.20,17.66 2.89,17.89 2.58,18.13 2.28,18.35 1.97,18.58 1.66,18.81 1.35,19.04 1.04,19.27 0.73,19.50 0.42,19.74 0.14,20.02 0.00,20.38 0.01,20.77 0.16,21.13 0.44,21.40 0.80,21.55 1.19,21.54 1.55,21.39 1.88,21.18 2.20,20.98 2.53,20.78 2.86,20.58 3.18,20.38 3.51,20.18 3.85,19.97 4.18,19.76 4.52,19.55 4.86,19.33 5.21,19.10 5.55,18.86 5.90,18.63 6.25,18.39 6.61,18.14 6.97,17.89 7.34,17.64 7.72,17.37 8.09,17.10 8.47,16.82 8.84,16.53 9.21,16.23 9.58,15.91 9.93,15.60 10.27,15.28 10.61,14.95 10.95,14.62 11.30,14.27 11.64,13.91 11.98,13.55 12.31,13.17 12.63,12.78 12.94,12.39 13.22,11.98 13.49,11.56 13.72,11.13 13.93,10.72 14.12,10.30 14.29,9.87 14.44,9.44 14.57,8.99 14.68,8.55 14.76,8.10 14.82,7.64 14.85,7.18 14.85,6.72 14.82,6.25 14.75,5.79 14.65,5.34 14.51,4.88 14.34,4.44 14.14,4.00 13.91,3.58 13.67,3.16 13.40,2.76 13.11,2.38 12.81,2.02 12.49,1.68 12.15,1.38 11.79,1.10 11.41,0.85 11.02,0.65 10.61,0.48 10.20,0.33 9.78,0.22 9.36,0.13 8.93,0.07 8.51,0.03 8.09,0.00 7.67,0.00 7.26,0.01 6.86,0.05 6.45,0.10 6.02,0.18 5.60,0.29 5.18,0.41 4.75,0.56 4.34,0.72 3.93,0.89 3.54,1.07 3.16,1.27 2.80,1.47 2.47,1.68 2.16,1.91 1.87,2.16 1.61,2.43 1.39,2.72 1.20,3.01 1.03,3.31 0.89,3.60 0.76,3.88 0.64,4.15 0.53,4.40 0.42,4.64 0.31,4.86 0.18,5.09 0.09,5.43 0.13,5.78 0.30,6.08 0.58,6.30 0.92,6.39 1.27,6.35 1.57,6.18Z"/><path d="M0.52,19.19 13.12,19.19 13.92,16.09 15.52,16.09 15.02,21.59 0.52,21.59Z"/><circle cx="2.02" cy="6.19" r="2.0"/></g>
</g>
</svg>
</body></html>
